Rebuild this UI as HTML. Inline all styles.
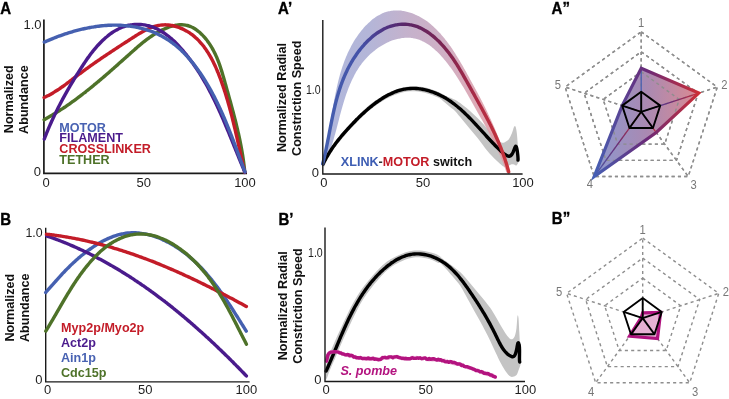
<!DOCTYPE html>
<html><head><meta charset="utf-8">
<style>
html,body{margin:0;padding:0;background:#fff;}
body{width:729px;height:399px;overflow:hidden;}
svg{display:block;will-change:transform;}
text{font-family:"Liberation Sans", sans-serif;}
.pl{font-weight:bold;font-size:16px;fill:#000;stroke:#000;stroke-width:0.35px;}
.tk{font-size:13px;fill:#1e1e1e;}
.tk2{font-size:12.5px;fill:#2b2b2b;}
.yl{font-weight:bold;font-size:12.6px;fill:#111;}
.lg{font-weight:bold;font-size:12.6px;}
.ax{stroke:#1a1a1a;stroke-width:1.7;fill:none;}
.ax2{stroke:#1a1a1a;stroke-width:1.4;fill:none;}
.cv{fill:none;stroke-width:3.4;stroke-linecap:round;stroke-linejoin:round;}
.dash{fill:none;stroke:#8e8e8e;stroke-width:1.4;stroke-dasharray:3.1 3.2;}
.bp{fill:none;stroke:#000;stroke-width:1.9;stroke-linejoin:round;}
.rl{font-size:12.2px;fill:#777;text-anchor:middle;}
</style></head>
<body>
<svg width="729" height="399" viewBox="0 0 729 399">
<defs>
<linearGradient id="gA1" gradientUnits="userSpaceOnUse" x1="323" y1="0" x2="508" y2="0">
<stop offset="0" stop-color="#4560b0"/><stop offset="0.2" stop-color="#4452a8"/><stop offset="0.35" stop-color="#50307e"/><stop offset="0.45" stop-color="#5a2566"/><stop offset="0.65" stop-color="#7c2452"/><stop offset="0.85" stop-color="#b02c44"/><stop offset="1" stop-color="#c8333a"/>
</linearGradient>
<linearGradient id="gA1f" gradientUnits="userSpaceOnUse" x1="323" y1="0" x2="510" y2="0">
<stop offset="0" stop-color="#a2abd6"/><stop offset="0.25" stop-color="#a7a9d1"/><stop offset="0.45" stop-color="#baa4c3"/><stop offset="0.65" stop-color="#c8a2ba"/><stop offset="0.85" stop-color="#db9ba7"/><stop offset="1" stop-color="#e699a2"/>
</linearGradient>
<linearGradient id="gR" gradientUnits="userSpaceOnUse" x1="594" y1="0" x2="699" y2="0">
<stop offset="0" stop-color="#4660b4"/><stop offset="0.5" stop-color="#6a2a78"/><stop offset="1" stop-color="#cc2f36"/>
</linearGradient>
<linearGradient id="gS" x1="0" y1="0" x2="1" y2="0">
<stop offset="0" stop-color="#4660b4"/><stop offset="0.5" stop-color="#6a2a78"/><stop offset="1" stop-color="#cc2f36"/>
</linearGradient>
<linearGradient id="gRf" gradientUnits="userSpaceOnUse" x1="594" y1="0" x2="699" y2="0">
<stop offset="0" stop-color="#8593cc"/><stop offset="0.5" stop-color="#a583ae"/><stop offset="1" stop-color="#d9848c"/>
</linearGradient>
</defs>

<!-- ============ Panel A ============ -->
<text transform="translate(0.2,13.9) scale(0.94,1)" class="pl">A</text>
<text x="41.5" y="28.6" class="tk" text-anchor="end">1.0</text>
<text x="41" y="175.6" class="tk" text-anchor="end">0</text>
<text x="46" y="186.7" class="tk" text-anchor="middle">0</text>
<text x="143.8" y="186.7" class="tk" text-anchor="middle">50</text>
<text x="245" y="186.7" class="tk" text-anchor="middle">100</text>
<text transform="translate(12.8,99.25) rotate(-90)" class="yl" text-anchor="middle">Normalized</text>
<text transform="translate(27.9,99.6) rotate(-90)" class="yl" text-anchor="middle">Abundance</text>
<path d="M43.9,19.4 V173.3 H247" class="ax"/>
<path d="M44.05,119.77 C44.35,119.61 45.23,119.12 45.82,118.80 C46.41,118.47 46.99,118.14 47.58,117.81 C48.16,117.48 48.74,117.15 49.33,116.81 C49.91,116.48 50.49,116.14 51.06,115.80 C51.64,115.46 52.22,115.12 52.79,114.77 C53.37,114.43 53.94,114.08 54.51,113.73 C55.09,113.38 55.66,113.03 56.23,112.68 C56.80,112.33 57.36,111.97 57.93,111.61 C58.50,111.25 59.06,110.89 59.62,110.53 C60.19,110.17 60.75,109.81 61.31,109.44 C61.87,109.07 62.43,108.71 62.99,108.34 C63.55,107.97 64.10,107.59 64.66,107.22 C65.22,106.85 65.77,106.47 66.32,106.09 C66.88,105.71 67.43,105.34 67.98,104.95 C68.53,104.57 69.08,104.19 69.63,103.80 C70.17,103.42 70.72,103.03 71.27,102.64 C71.81,102.26 72.36,101.87 72.90,101.47 C73.44,101.08 73.99,100.69 74.53,100.29 C75.07,99.90 75.61,99.50 76.15,99.10 C76.69,98.70 77.22,98.30 77.76,97.90 C78.30,97.50 78.83,97.10 79.37,96.69 C79.90,96.29 80.44,95.88 80.97,95.48 C81.50,95.07 82.03,94.66 82.56,94.25 C83.10,93.84 83.63,93.43 84.15,93.02 C84.68,92.60 85.21,92.19 85.74,91.78 C86.26,91.36 86.79,90.94 87.32,90.53 C87.84,90.11 88.37,89.69 88.89,89.27 C89.41,88.85 89.93,88.43 90.46,88.01 C90.98,87.58 91.50,87.16 92.02,86.73 C92.54,86.31 93.06,85.88 93.58,85.46 C94.10,85.03 94.61,84.60 95.13,84.18 C95.65,83.75 96.16,83.32 96.68,82.89 C97.20,82.46 97.71,82.02 98.22,81.59 C98.74,81.16 99.25,80.73 99.77,80.29 C100.28,79.86 100.79,79.42 101.30,78.99 C101.81,78.55 102.32,78.12 102.84,77.68 C103.35,77.24 103.86,76.80 104.36,76.37 C104.87,75.93 105.38,75.49 105.89,75.05 C106.40,74.61 106.91,74.17 107.41,73.73 C107.92,73.29 108.43,72.85 108.93,72.40 C109.44,71.96 109.95,71.52 110.45,71.08 C110.96,70.63 111.46,70.19 111.97,69.75 C112.47,69.30 112.97,68.86 113.48,68.41 C113.98,67.97 114.48,67.53 114.99,67.08 C115.49,66.63 115.99,66.19 116.49,65.74 C117.00,65.30 117.50,64.85 118.00,64.41 C118.50,63.96 119.00,63.51 119.50,63.07 C120.00,62.62 120.50,62.17 121.00,61.73 C121.51,61.28 122.01,60.83 122.51,60.38 C123.01,59.94 123.50,59.49 124.00,59.04 C124.50,58.60 125.00,58.15 125.50,57.70 C126.00,57.25 126.50,56.81 127.00,56.36 C127.50,55.91 128.00,55.47 128.50,55.02 C128.99,54.57 129.49,54.13 129.99,53.68 C130.49,53.23 130.99,52.79 131.49,52.34 C131.99,51.90 132.48,51.45 132.98,51.01 C133.48,50.56 133.98,50.12 134.49,49.68 C134.99,49.23 135.49,48.79 135.99,48.35 C136.50,47.91 137.00,47.48 137.51,47.04 C138.01,46.61 138.52,46.17 139.03,45.74 C139.54,45.31 140.05,44.88 140.56,44.45 C141.08,44.02 141.59,43.60 142.11,43.18 C142.63,42.76 143.15,42.34 143.67,41.92 C144.20,41.51 144.72,41.10 145.25,40.69 C145.78,40.28 146.31,39.88 146.85,39.47 C147.39,39.07 147.93,38.68 148.47,38.28 C149.01,37.89 149.56,37.50 150.11,37.12 C150.66,36.74 151.22,36.36 151.78,35.98 C152.34,35.61 152.90,35.24 153.47,34.88 C154.04,34.51 154.62,34.15 155.20,33.80 C155.77,33.45 156.36,33.10 156.95,32.76 C157.54,32.42 158.13,32.08 158.73,31.76 C159.33,31.43 159.94,31.10 160.55,30.79 C161.16,30.47 161.78,30.16 162.41,29.86 C163.03,29.56 163.66,29.27 164.29,28.99 C164.93,28.70 165.56,28.43 166.20,28.17 C166.84,27.90 167.49,27.65 168.14,27.41 C168.78,27.18 169.43,26.95 170.08,26.74 C170.73,26.53 171.39,26.33 172.04,26.14 C172.69,25.96 173.35,25.80 174.00,25.65 C174.65,25.50 175.31,25.36 175.96,25.25 C176.61,25.14 177.26,25.04 177.91,24.96 C178.56,24.89 179.21,24.83 179.85,24.80 C180.50,24.76 181.14,24.75 181.78,24.76 C182.42,24.77 183.05,24.80 183.68,24.86 C184.31,24.92 184.94,25.00 185.56,25.11 C186.18,25.22 186.79,25.35 187.40,25.51 C188.01,25.67 188.61,25.86 189.21,26.07 C189.81,26.27 190.40,26.51 190.98,26.76 C191.57,27.01 192.14,27.29 192.71,27.59 C193.29,27.88 193.85,28.20 194.41,28.54 C194.97,28.87 195.52,29.23 196.06,29.60 C196.61,29.97 197.14,30.37 197.67,30.77 C198.20,31.18 198.72,31.60 199.24,32.04 C199.75,32.48 200.26,32.93 200.76,33.40 C201.26,33.86 201.75,34.34 202.23,34.83 C202.71,35.33 203.19,35.83 203.65,36.34 C204.12,36.85 204.58,37.38 205.03,37.91 C205.48,38.44 205.92,38.99 206.35,39.53 C206.78,40.08 207.21,40.64 207.62,41.20 C208.03,41.76 208.44,42.33 208.83,42.90 C209.23,43.47 209.61,44.05 209.99,44.63 C210.37,45.21 210.73,45.79 211.09,46.37 C211.45,46.96 211.80,47.55 212.14,48.14 C212.48,48.73 212.81,49.32 213.13,49.92 C213.45,50.52 213.77,51.11 214.07,51.72 C214.38,52.32 214.68,52.92 214.97,53.53 C215.26,54.13 215.55,54.74 215.83,55.35 C216.10,55.96 216.38,56.58 216.64,57.19 C216.91,57.81 217.16,58.42 217.42,59.04 C217.67,59.66 217.92,60.28 218.16,60.90 C218.40,61.53 218.64,62.15 218.87,62.78 C219.10,63.40 219.32,64.03 219.55,64.66 C219.77,65.29 219.99,65.92 220.20,66.55 C220.41,67.18 220.62,67.82 220.83,68.45 C221.03,69.09 221.24,69.72 221.44,70.36 C221.64,70.99 221.83,71.63 222.03,72.27 C222.22,72.91 222.41,73.55 222.60,74.19 C222.79,74.83 222.98,75.47 223.16,76.11 C223.35,76.76 223.53,77.40 223.72,78.04 C223.90,78.68 224.08,79.33 224.26,79.97 C224.45,80.62 224.63,81.26 224.81,81.91 C224.99,82.55 225.17,83.19 225.35,83.84 C225.53,84.48 225.71,85.13 225.89,85.77 C226.07,86.42 226.25,87.07 226.43,87.71 C226.61,88.36 226.79,89.00 226.97,89.65 C227.15,90.29 227.34,90.94 227.52,91.58 C227.70,92.23 227.88,92.88 228.06,93.52 C228.24,94.17 228.42,94.82 228.60,95.46 C228.78,96.11 228.96,96.76 229.14,97.40 C229.32,98.05 229.50,98.70 229.68,99.34 C229.86,99.99 230.04,100.64 230.22,101.28 C230.39,101.93 230.57,102.58 230.75,103.23 C230.93,103.88 231.10,104.52 231.28,105.17 C231.46,105.82 231.63,106.47 231.81,107.12 C231.98,107.76 232.16,108.41 232.33,109.06 C232.51,109.71 232.68,110.36 232.85,111.01 C233.03,111.66 233.20,112.31 233.37,112.96 C233.54,113.61 233.71,114.26 233.88,114.91 C234.05,115.56 234.22,116.21 234.39,116.86 C234.55,117.51 234.72,118.16 234.89,118.81 C235.05,119.46 235.22,120.11 235.38,120.76 C235.54,121.42 235.71,122.07 235.87,122.72 C236.03,123.37 236.19,124.02 236.35,124.68 C236.51,125.33 236.67,125.98 236.82,126.63 C236.98,127.29 237.13,127.94 237.29,128.59 C237.44,129.25 237.59,129.90 237.75,130.56 C237.90,131.21 238.05,131.86 238.19,132.52 C238.34,133.17 238.49,133.83 238.64,134.48 C238.78,135.14 238.92,135.79 239.07,136.45 C239.21,137.10 239.35,137.76 239.49,138.42 C239.63,139.07 239.76,139.73 239.90,140.39 C240.03,141.04 240.17,141.70 240.30,142.36 C240.43,143.01 240.56,143.67 240.69,144.33 C240.82,144.99 240.94,145.65 241.07,146.30 C241.19,146.96 241.31,147.62 241.44,148.28 C241.56,148.94 241.67,149.60 241.79,150.26 C241.91,150.92 242.02,151.58 242.13,152.24 C242.24,152.90 242.35,153.56 242.46,154.22 C242.57,154.88 242.68,155.55 242.78,156.21 C242.88,156.87 242.98,157.53 243.08,158.20 C243.18,158.86 243.28,159.52 243.37,160.18 C243.46,160.85 243.55,161.51 243.64,162.18 C243.73,162.84 243.82,163.50 243.90,164.17 C243.99,164.83 244.07,165.50 244.15,166.16 C244.22,166.83 244.30,167.50 244.37,168.16 C244.45,168.83 244.52,169.50 244.59,170.16 C244.65,170.83 244.75,171.83 244.78,172.17" class="cv" stroke="#4e7229"/>
<path d="M44.03,97.59 C44.33,97.45 45.24,97.03 45.84,96.74 C46.44,96.45 47.04,96.15 47.63,95.85 C48.22,95.54 48.81,95.23 49.40,94.91 C49.99,94.59 50.58,94.27 51.16,93.93 C51.74,93.60 52.32,93.27 52.90,92.92 C53.48,92.58 54.05,92.23 54.63,91.88 C55.20,91.53 55.77,91.17 56.34,90.80 C56.91,90.44 57.47,90.07 58.04,89.70 C58.60,89.33 59.16,88.95 59.72,88.57 C60.28,88.19 60.84,87.80 61.40,87.42 C61.96,87.03 62.51,86.64 63.07,86.24 C63.62,85.85 64.17,85.45 64.72,85.05 C65.28,84.65 65.82,84.25 66.37,83.85 C66.92,83.44 67.47,83.04 68.02,82.63 C68.56,82.22 69.11,81.81 69.65,81.40 C70.20,80.99 70.74,80.58 71.28,80.17 C71.82,79.76 72.37,79.35 72.91,78.93 C73.45,78.52 73.99,78.11 74.53,77.69 C75.07,77.28 75.61,76.87 76.15,76.46 C76.69,76.05 77.23,75.64 77.77,75.23 C78.31,74.82 78.85,74.41 79.38,74.00 C79.92,73.59 80.46,73.19 81.00,72.79 C81.54,72.38 82.08,71.98 82.62,71.58 C83.16,71.18 83.70,70.78 84.24,70.39 C84.78,69.99 85.32,69.60 85.86,69.20 C86.40,68.81 86.94,68.42 87.48,68.03 C88.03,67.64 88.57,67.25 89.11,66.86 C89.65,66.47 90.19,66.09 90.74,65.70 C91.28,65.32 91.82,64.93 92.36,64.55 C92.91,64.17 93.45,63.79 93.99,63.41 C94.54,63.03 95.08,62.65 95.63,62.27 C96.17,61.89 96.72,61.51 97.27,61.13 C97.81,60.76 98.36,60.38 98.91,60.01 C99.45,59.63 100.00,59.26 100.55,58.88 C101.10,58.51 101.65,58.14 102.20,57.77 C102.74,57.39 103.30,57.02 103.85,56.65 C104.40,56.28 104.95,55.91 105.50,55.54 C106.05,55.17 106.61,54.80 107.16,54.43 C107.71,54.06 108.27,53.69 108.82,53.32 C109.38,52.95 109.94,52.58 110.49,52.21 C111.05,51.84 111.61,51.48 112.17,51.11 C112.73,50.74 113.29,50.37 113.85,50.00 C114.41,49.63 114.97,49.26 115.53,48.90 C116.09,48.53 116.66,48.16 117.22,47.79 C117.79,47.42 118.35,47.05 118.92,46.68 C119.48,46.31 120.05,45.94 120.62,45.57 C121.19,45.20 121.76,44.83 122.33,44.45 C122.90,44.08 123.47,43.71 124.05,43.34 C124.62,42.96 125.19,42.59 125.77,42.22 C126.34,41.84 126.92,41.47 127.50,41.09 C128.08,40.72 128.66,40.34 129.24,39.96 C129.82,39.58 130.40,39.21 130.98,38.83 C131.56,38.45 132.15,38.07 132.74,37.69 C133.32,37.31 133.91,36.94 134.50,36.56 C135.09,36.19 135.68,35.81 136.27,35.44 C136.86,35.07 137.45,34.71 138.05,34.34 C138.64,33.98 139.24,33.62 139.84,33.27 C140.44,32.92 141.04,32.57 141.64,32.23 C142.24,31.89 142.84,31.56 143.45,31.23 C144.05,30.91 144.66,30.59 145.27,30.28 C145.88,29.97 146.49,29.67 147.11,29.38 C147.72,29.09 148.33,28.81 148.95,28.54 C149.57,28.27 150.19,28.01 150.81,27.77 C151.43,27.52 152.06,27.29 152.68,27.07 C153.31,26.85 153.94,26.65 154.57,26.46 C155.20,26.26 155.83,26.09 156.47,25.93 C157.10,25.77 157.74,25.62 158.38,25.49 C159.02,25.37 159.67,25.25 160.31,25.16 C160.96,25.07 161.61,24.99 162.26,24.94 C162.91,24.88 163.56,24.85 164.22,24.83 C164.87,24.82 165.53,24.82 166.19,24.84 C166.85,24.86 167.51,24.91 168.18,24.97 C168.84,25.03 169.50,25.11 170.16,25.20 C170.82,25.30 171.49,25.41 172.14,25.54 C172.80,25.67 173.46,25.82 174.12,25.98 C174.77,26.14 175.43,26.32 176.08,26.51 C176.72,26.70 177.37,26.91 178.01,27.13 C178.65,27.35 179.29,27.58 179.92,27.83 C180.55,28.08 181.18,28.34 181.79,28.61 C182.41,28.89 183.03,29.17 183.63,29.47 C184.23,29.76 184.83,30.07 185.42,30.39 C186.01,30.71 186.58,31.04 187.16,31.38 C187.73,31.72 188.29,32.07 188.84,32.42 C189.40,32.78 189.95,33.15 190.48,33.53 C191.02,33.91 191.55,34.30 192.08,34.70 C192.60,35.09 193.11,35.50 193.62,35.91 C194.13,36.33 194.63,36.75 195.12,37.19 C195.61,37.62 196.10,38.06 196.58,38.51 C197.05,38.96 197.52,39.42 197.99,39.88 C198.45,40.35 198.91,40.82 199.36,41.30 C199.81,41.78 200.25,42.27 200.69,42.77 C201.12,43.26 201.55,43.77 201.97,44.28 C202.40,44.79 202.81,45.30 203.22,45.83 C203.63,46.35 204.04,46.88 204.44,47.42 C204.83,47.95 205.22,48.49 205.61,49.04 C206.00,49.59 206.38,50.14 206.75,50.70 C207.12,51.26 207.49,51.83 207.85,52.40 C208.22,52.97 208.57,53.54 208.92,54.12 C209.28,54.70 209.62,55.29 209.96,55.88 C210.30,56.47 210.64,57.06 210.97,57.66 C211.30,58.26 211.63,58.86 211.95,59.47 C212.27,60.07 212.58,60.68 212.89,61.30 C213.20,61.91 213.51,62.53 213.81,63.15 C214.11,63.77 214.41,64.39 214.71,65.02 C215.00,65.64 215.29,66.27 215.57,66.90 C215.86,67.53 216.14,68.17 216.41,68.80 C216.69,69.44 216.96,70.08 217.23,70.72 C217.50,71.36 217.76,72.00 218.02,72.65 C218.29,73.29 218.54,73.93 218.80,74.58 C219.05,75.23 219.30,75.87 219.55,76.52 C219.80,77.17 220.04,77.82 220.28,78.47 C220.52,79.12 220.76,79.77 221.00,80.42 C221.23,81.07 221.47,81.72 221.70,82.37 C221.93,83.02 222.15,83.67 222.38,84.32 C222.60,84.97 222.82,85.62 223.04,86.27 C223.26,86.92 223.48,87.56 223.69,88.21 C223.91,88.86 224.12,89.50 224.33,90.15 C224.54,90.80 224.75,91.44 224.96,92.09 C225.16,92.73 225.37,93.38 225.57,94.02 C225.77,94.67 225.97,95.31 226.17,95.96 C226.36,96.60 226.56,97.24 226.75,97.89 C226.95,98.53 227.14,99.17 227.33,99.81 C227.52,100.46 227.70,101.10 227.89,101.74 C228.08,102.38 228.26,103.03 228.44,103.67 C228.63,104.31 228.81,104.95 228.99,105.59 C229.17,106.23 229.34,106.88 229.52,107.52 C229.70,108.16 229.87,108.80 230.04,109.44 C230.22,110.08 230.39,110.72 230.56,111.36 C230.73,112.00 230.90,112.65 231.06,113.29 C231.23,113.93 231.40,114.57 231.56,115.21 C231.73,115.85 231.89,116.49 232.05,117.14 C232.22,117.78 232.38,118.42 232.54,119.06 C232.70,119.70 232.86,120.35 233.02,120.99 C233.18,121.63 233.33,122.27 233.49,122.92 C233.65,123.56 233.80,124.20 233.96,124.85 C234.11,125.49 234.27,126.13 234.42,126.78 C234.57,127.42 234.72,128.07 234.88,128.71 C235.03,129.36 235.18,130.00 235.33,130.65 C235.48,131.30 235.63,131.94 235.78,132.59 C235.93,133.24 236.08,133.88 236.23,134.53 C236.37,135.18 236.52,135.83 236.67,136.48 C236.82,137.13 236.96,137.78 237.11,138.43 C237.26,139.08 237.40,139.73 237.55,140.38 C237.70,141.03 237.84,141.69 237.99,142.34 C238.14,142.99 238.28,143.65 238.43,144.30 C238.57,144.96 238.72,145.61 238.87,146.27 C239.01,146.93 239.16,147.58 239.31,148.24 C239.45,148.90 239.60,149.56 239.74,150.22 C239.89,150.88 240.04,151.54 240.18,152.20 C240.33,152.87 240.48,153.53 240.63,154.19 C240.77,154.86 240.92,155.52 241.07,156.19 C241.22,156.85 241.37,157.52 241.52,158.19 C241.67,158.86 241.82,159.53 241.97,160.20 C242.12,160.87 242.27,161.54 242.42,162.21 C242.57,162.89 242.72,163.56 242.88,164.24 C243.03,164.91 243.18,165.59 243.34,166.26 C243.49,166.94 243.65,167.62 243.81,168.30 C243.96,168.98 244.12,169.66 244.28,170.35 C244.44,171.03 244.68,172.06 244.76,172.40" class="cv" stroke="#c31c28"/>
<path d="M44.26,139.06 C44.38,138.74 44.75,137.79 44.99,137.16 C45.24,136.53 45.49,135.90 45.74,135.27 C45.99,134.64 46.24,134.01 46.49,133.38 C46.75,132.75 47.00,132.13 47.26,131.50 C47.52,130.88 47.78,130.25 48.04,129.63 C48.30,129.01 48.57,128.38 48.83,127.76 C49.10,127.14 49.37,126.52 49.64,125.90 C49.91,125.28 50.18,124.66 50.45,124.05 C50.73,123.43 51.00,122.81 51.28,122.20 C51.55,121.58 51.83,120.97 52.11,120.35 C52.39,119.74 52.68,119.13 52.96,118.52 C53.25,117.91 53.53,117.29 53.82,116.68 C54.11,116.08 54.40,115.47 54.69,114.86 C54.98,114.25 55.27,113.64 55.57,113.04 C55.86,112.43 56.16,111.83 56.45,111.22 C56.75,110.62 57.05,110.02 57.35,109.41 C57.65,108.81 57.96,108.21 58.26,107.61 C58.57,107.01 58.87,106.41 59.18,105.81 C59.49,105.21 59.80,104.62 60.11,104.02 C60.42,103.42 60.73,102.83 61.04,102.23 C61.36,101.63 61.67,101.04 61.99,100.45 C62.30,99.85 62.62,99.26 62.94,98.67 C63.26,98.08 63.58,97.49 63.91,96.89 C64.23,96.30 64.55,95.71 64.88,95.13 C65.20,94.54 65.53,93.95 65.86,93.36 C66.19,92.78 66.52,92.19 66.85,91.60 C67.18,91.02 67.51,90.43 67.85,89.85 C68.18,89.26 68.51,88.68 68.85,88.10 C69.19,87.52 69.52,86.93 69.86,86.35 C70.20,85.77 70.54,85.19 70.88,84.61 C71.23,84.03 71.57,83.45 71.91,82.88 C72.26,82.30 72.60,81.72 72.95,81.14 C73.30,80.57 73.64,79.99 73.99,79.41 C74.34,78.84 74.69,78.26 75.04,77.69 C75.39,77.12 75.75,76.54 76.10,75.97 C76.45,75.40 76.81,74.82 77.16,74.25 C77.52,73.68 77.88,73.11 78.23,72.54 C78.59,71.97 78.95,71.40 79.31,70.83 C79.67,70.26 80.03,69.69 80.39,69.13 C80.76,68.56 81.12,67.99 81.48,67.43 C81.85,66.86 82.21,66.29 82.58,65.73 C82.95,65.17 83.32,64.60 83.69,64.04 C84.06,63.48 84.44,62.92 84.81,62.36 C85.19,61.80 85.57,61.24 85.95,60.69 C86.33,60.13 86.71,59.58 87.10,59.03 C87.48,58.47 87.87,57.92 88.27,57.38 C88.66,56.83 89.06,56.28 89.45,55.74 C89.85,55.19 90.26,54.65 90.66,54.11 C91.07,53.57 91.48,53.04 91.90,52.50 C92.31,51.97 92.73,51.44 93.15,50.91 C93.58,50.38 94.00,49.86 94.44,49.34 C94.87,48.81 95.31,48.29 95.75,47.78 C96.19,47.26 96.64,46.75 97.09,46.24 C97.55,45.73 98.00,45.23 98.47,44.73 C98.93,44.23 99.40,43.73 99.88,43.23 C100.35,42.74 100.83,42.25 101.32,41.77 C101.81,41.28 102.30,40.80 102.80,40.32 C103.30,39.85 103.80,39.38 104.31,38.92 C104.82,38.45 105.34,38.00 105.86,37.55 C106.38,37.10 106.91,36.65 107.44,36.22 C107.97,35.78 108.51,35.36 109.05,34.94 C109.60,34.52 110.14,34.11 110.70,33.71 C111.25,33.31 111.81,32.91 112.37,32.53 C112.94,32.15 113.51,31.78 114.08,31.42 C114.65,31.06 115.23,30.71 115.82,30.37 C116.40,30.03 116.99,29.70 117.58,29.39 C118.18,29.08 118.78,28.77 119.38,28.48 C119.98,28.20 120.59,27.92 121.20,27.66 C121.81,27.40 122.43,27.15 123.05,26.91 C123.67,26.68 124.30,26.46 124.93,26.26 C125.56,26.06 126.19,25.87 126.83,25.70 C127.47,25.52 128.12,25.37 128.76,25.23 C129.41,25.09 130.06,24.97 130.72,24.86 C131.37,24.76 132.03,24.67 132.69,24.59 C133.34,24.52 134.01,24.46 134.67,24.42 C135.33,24.38 135.99,24.35 136.66,24.34 C137.32,24.33 137.99,24.33 138.65,24.35 C139.32,24.37 139.98,24.40 140.64,24.45 C141.31,24.50 141.97,24.57 142.63,24.65 C143.29,24.73 143.95,24.82 144.60,24.93 C145.25,25.04 145.91,25.17 146.55,25.31 C147.20,25.44 147.85,25.60 148.49,25.76 C149.13,25.93 149.76,26.11 150.39,26.31 C151.02,26.50 151.65,26.71 152.27,26.93 C152.89,27.15 153.50,27.39 154.11,27.64 C154.72,27.89 155.33,28.15 155.93,28.42 C156.53,28.69 157.12,28.98 157.71,29.28 C158.30,29.57 158.88,29.88 159.46,30.20 C160.04,30.52 160.62,30.85 161.19,31.19 C161.76,31.53 162.32,31.89 162.88,32.25 C163.44,32.61 164.00,32.98 164.55,33.36 C165.10,33.74 165.64,34.13 166.19,34.53 C166.73,34.93 167.26,35.34 167.80,35.76 C168.33,36.17 168.86,36.60 169.38,37.03 C169.90,37.46 170.42,37.90 170.94,38.35 C171.45,38.79 171.96,39.25 172.47,39.71 C172.98,40.17 173.48,40.64 173.98,41.11 C174.47,41.58 174.97,42.06 175.46,42.55 C175.95,43.03 176.43,43.52 176.91,44.02 C177.39,44.51 177.87,45.01 178.35,45.51 C178.82,46.02 179.29,46.53 179.75,47.04 C180.22,47.55 180.68,48.06 181.14,48.58 C181.60,49.10 182.05,49.62 182.50,50.15 C182.95,50.67 183.40,51.20 183.84,51.73 C184.29,52.26 184.73,52.79 185.16,53.32 C185.60,53.85 186.03,54.39 186.46,54.92 C186.89,55.46 187.31,55.99 187.73,56.53 C188.16,57.07 188.58,57.61 188.99,58.16 C189.41,58.70 189.82,59.24 190.23,59.79 C190.64,60.33 191.04,60.88 191.44,61.43 C191.84,61.98 192.24,62.53 192.64,63.08 C193.04,63.63 193.43,64.18 193.82,64.74 C194.21,65.29 194.59,65.85 194.98,66.41 C195.36,66.96 195.74,67.52 196.12,68.08 C196.50,68.64 196.87,69.21 197.24,69.77 C197.61,70.33 197.98,70.90 198.35,71.46 C198.71,72.03 199.08,72.60 199.44,73.16 C199.80,73.73 200.16,74.30 200.51,74.87 C200.87,75.45 201.22,76.02 201.57,76.59 C201.92,77.17 202.27,77.74 202.61,78.32 C202.96,78.89 203.30,79.47 203.64,80.05 C203.98,80.63 204.32,81.21 204.65,81.79 C204.99,82.37 205.32,82.95 205.65,83.54 C205.98,84.12 206.31,84.71 206.63,85.29 C206.96,85.88 207.28,86.47 207.60,87.05 C207.93,87.64 208.24,88.23 208.56,88.82 C208.88,89.41 209.19,90.00 209.51,90.59 C209.82,91.19 210.13,91.78 210.44,92.37 C210.75,92.97 211.06,93.56 211.36,94.16 C211.67,94.76 211.97,95.35 212.27,95.95 C212.57,96.55 212.87,97.15 213.17,97.75 C213.47,98.35 213.76,98.95 214.06,99.55 C214.35,100.15 214.64,100.76 214.93,101.36 C215.23,101.96 215.51,102.57 215.80,103.17 C216.09,103.78 216.38,104.38 216.66,104.99 C216.95,105.60 217.23,106.20 217.51,106.81 C217.79,107.42 218.07,108.03 218.35,108.64 C218.63,109.25 218.91,109.86 219.19,110.47 C219.46,111.08 219.74,111.69 220.01,112.31 C220.29,112.92 220.56,113.53 220.83,114.15 C221.10,114.76 221.37,115.37 221.64,115.99 C221.91,116.60 222.18,117.22 222.45,117.83 C222.72,118.45 222.98,119.07 223.25,119.68 C223.51,120.30 223.78,120.92 224.04,121.54 C224.31,122.16 224.57,122.78 224.83,123.39 C225.09,124.01 225.35,124.63 225.61,125.25 C225.88,125.87 226.14,126.49 226.39,127.12 C226.65,127.74 226.91,128.36 227.17,128.98 C227.43,129.60 227.69,130.22 227.94,130.85 C228.20,131.47 228.46,132.09 228.71,132.71 C228.97,133.34 229.22,133.96 229.48,134.58 C229.73,135.21 229.99,135.83 230.24,136.46 C230.50,137.08 230.75,137.71 231.01,138.33 C231.26,138.96 231.51,139.58 231.77,140.21 C232.02,140.83 232.27,141.46 232.53,142.08 C232.78,142.71 233.03,143.33 233.29,143.96 C233.54,144.59 233.79,145.21 234.04,145.84 C234.30,146.46 234.55,147.09 234.80,147.72 C235.06,148.34 235.31,148.97 235.56,149.60 C235.82,150.22 236.07,150.85 236.33,151.47 C236.58,152.10 236.83,152.73 237.09,153.35 C237.34,153.98 237.60,154.61 237.85,155.23 C238.11,155.86 238.36,156.49 238.62,157.11 C238.88,157.74 239.13,158.37 239.39,158.99 C239.65,159.62 239.90,160.24 240.16,160.87 C240.42,161.50 240.68,162.12 240.94,162.75 C241.20,163.37 241.46,164.00 241.72,164.62 C241.98,165.25 242.24,165.87 242.50,166.50 C242.77,167.12 243.03,167.75 243.29,168.37 C243.56,169.00 243.82,169.62 244.09,170.24 C244.35,170.87 244.76,171.80 244.89,172.11" class="cv" stroke="#4a1b8c"/>
<path d="M44.23,42.09 C44.53,41.96 45.42,41.57 46.01,41.32 C46.60,41.07 47.20,40.81 47.80,40.56 C48.40,40.31 49.00,40.06 49.61,39.81 C50.21,39.56 50.82,39.32 51.43,39.07 C52.03,38.83 52.64,38.58 53.26,38.34 C53.87,38.10 54.49,37.86 55.10,37.62 C55.72,37.38 56.34,37.15 56.96,36.92 C57.58,36.68 58.20,36.45 58.83,36.22 C59.45,35.99 60.08,35.77 60.71,35.54 C61.34,35.32 61.97,35.10 62.60,34.88 C63.23,34.66 63.87,34.44 64.50,34.23 C65.14,34.01 65.78,33.80 66.42,33.59 C67.06,33.38 67.70,33.18 68.34,32.97 C68.98,32.77 69.63,32.57 70.27,32.37 C70.92,32.17 71.57,31.98 72.21,31.79 C72.86,31.60 73.51,31.41 74.16,31.23 C74.82,31.04 75.47,30.86 76.12,30.68 C76.78,30.51 77.43,30.33 78.09,30.16 C78.75,29.99 79.41,29.82 80.06,29.66 C80.72,29.49 81.38,29.33 82.05,29.18 C82.71,29.02 83.37,28.87 84.03,28.72 C84.70,28.57 85.36,28.43 86.03,28.29 C86.69,28.15 87.36,28.01 88.03,27.88 C88.70,27.75 89.37,27.62 90.04,27.50 C90.70,27.37 91.38,27.25 92.05,27.14 C92.72,27.02 93.39,26.91 94.06,26.81 C94.74,26.70 95.41,26.60 96.08,26.51 C96.76,26.41 97.43,26.32 98.11,26.23 C98.78,26.14 99.46,26.06 100.13,25.98 C100.81,25.91 101.49,25.84 102.17,25.77 C102.84,25.70 103.52,25.64 104.20,25.58 C104.88,25.53 105.56,25.47 106.23,25.43 C106.91,25.38 107.59,25.34 108.27,25.31 C108.95,25.27 109.63,25.24 110.31,25.22 C110.99,25.19 111.67,25.18 112.35,25.16 C113.03,25.15 113.71,25.14 114.39,25.14 C115.07,25.14 115.75,25.14 116.43,25.16 C117.11,25.17 117.80,25.18 118.47,25.20 C119.15,25.23 119.83,25.25 120.51,25.29 C121.19,25.32 121.87,25.36 122.55,25.41 C123.22,25.45 123.90,25.51 124.58,25.57 C125.25,25.62 125.93,25.69 126.60,25.76 C127.28,25.83 127.95,25.90 128.62,25.99 C129.29,26.07 129.97,26.16 130.64,26.25 C131.30,26.35 131.97,26.45 132.64,26.56 C133.31,26.66 133.97,26.78 134.64,26.90 C135.30,27.02 135.96,27.14 136.62,27.27 C137.28,27.41 137.94,27.55 138.60,27.69 C139.25,27.84 139.91,27.99 140.56,28.15 C141.21,28.30 141.86,28.47 142.51,28.64 C143.16,28.81 143.80,28.99 144.45,29.17 C145.09,29.36 145.73,29.55 146.37,29.74 C147.00,29.94 147.64,30.14 148.27,30.36 C148.90,30.57 149.53,30.78 150.16,31.01 C150.79,31.23 151.41,31.46 152.03,31.70 C152.65,31.93 153.27,32.18 153.88,32.43 C154.50,32.68 155.11,32.94 155.72,33.20 C156.32,33.47 156.93,33.74 157.53,34.01 C158.13,34.29 158.73,34.58 159.32,34.87 C159.91,35.16 160.50,35.46 161.09,35.77 C161.67,36.07 162.25,36.38 162.83,36.70 C163.41,37.02 163.98,37.35 164.55,37.68 C165.12,38.02 165.68,38.36 166.24,38.71 C166.80,39.05 167.36,39.41 167.91,39.77 C168.47,40.13 169.01,40.50 169.56,40.87 C170.10,41.25 170.64,41.63 171.18,42.01 C171.71,42.40 172.25,42.79 172.78,43.19 C173.30,43.59 173.83,43.99 174.35,44.40 C174.87,44.81 175.38,45.23 175.90,45.65 C176.41,46.07 176.92,46.50 177.42,46.93 C177.93,47.37 178.43,47.81 178.93,48.25 C179.42,48.69 179.92,49.14 180.41,49.60 C180.90,50.05 181.38,50.51 181.86,50.97 C182.35,51.44 182.83,51.91 183.30,52.38 C183.78,52.85 184.25,53.33 184.71,53.81 C185.18,54.30 185.65,54.78 186.11,55.28 C186.57,55.77 187.02,56.26 187.48,56.76 C187.93,57.26 188.38,57.77 188.82,58.28 C189.27,58.78 189.71,59.30 190.15,59.81 C190.59,60.33 191.03,60.85 191.46,61.37 C191.89,61.89 192.32,62.42 192.75,62.95 C193.17,63.48 193.59,64.01 194.01,64.55 C194.43,65.08 194.85,65.62 195.26,66.17 C195.67,66.71 196.08,67.25 196.48,67.80 C196.89,68.35 197.29,68.90 197.69,69.45 C198.09,70.01 198.48,70.56 198.88,71.12 C199.27,71.68 199.66,72.24 200.05,72.81 C200.43,73.37 200.81,73.93 201.19,74.50 C201.57,75.07 201.95,75.64 202.32,76.21 C202.70,76.78 203.07,77.35 203.44,77.93 C203.80,78.50 204.17,79.08 204.53,79.66 C204.89,80.24 205.25,80.82 205.61,81.40 C205.96,81.98 206.32,82.56 206.67,83.14 C207.02,83.72 207.36,84.31 207.71,84.89 C208.05,85.48 208.39,86.07 208.73,86.66 C209.07,87.24 209.41,87.83 209.74,88.42 C210.07,89.01 210.40,89.61 210.73,90.20 C211.06,90.79 211.39,91.39 211.71,91.98 C212.03,92.58 212.35,93.17 212.67,93.77 C212.99,94.37 213.31,94.96 213.62,95.56 C213.93,96.16 214.24,96.76 214.55,97.36 C214.86,97.97 215.17,98.57 215.47,99.17 C215.78,99.77 216.08,100.38 216.38,100.98 C216.68,101.59 216.98,102.19 217.27,102.80 C217.57,103.41 217.86,104.02 218.15,104.62 C218.44,105.23 218.73,105.84 219.02,106.45 C219.31,107.06 219.59,107.67 219.88,108.29 C220.16,108.90 220.44,109.51 220.72,110.12 C221.00,110.74 221.28,111.35 221.56,111.97 C221.83,112.58 222.11,113.20 222.38,113.81 C222.65,114.43 222.92,115.04 223.19,115.66 C223.46,116.28 223.73,116.90 224.00,117.52 C224.26,118.13 224.53,118.75 224.79,119.37 C225.06,119.99 225.32,120.61 225.58,121.23 C225.84,121.85 226.10,122.47 226.36,123.10 C226.61,123.72 226.87,124.34 227.13,124.96 C227.38,125.59 227.64,126.21 227.89,126.83 C228.14,127.46 228.39,128.08 228.64,128.70 C228.89,129.33 229.14,129.95 229.39,130.58 C229.64,131.20 229.89,131.83 230.13,132.45 C230.38,133.08 230.63,133.70 230.87,134.33 C231.12,134.96 231.36,135.58 231.60,136.21 C231.84,136.83 232.09,137.46 232.33,138.09 C232.57,138.72 232.81,139.34 233.05,139.97 C233.29,140.60 233.53,141.22 233.77,141.85 C234.00,142.48 234.24,143.11 234.48,143.73 C234.72,144.36 234.95,144.99 235.19,145.62 C235.43,146.24 235.66,146.87 235.90,147.50 C236.13,148.13 236.37,148.76 236.60,149.38 C236.84,150.01 237.07,150.64 237.30,151.27 C237.54,151.89 237.77,152.52 238.00,153.15 C238.24,153.78 238.47,154.40 238.70,155.03 C238.94,155.66 239.17,156.28 239.40,156.91 C239.64,157.54 239.87,158.16 240.10,158.79 C240.33,159.42 240.57,160.04 240.80,160.67 C241.03,161.29 241.26,161.92 241.50,162.55 C241.73,163.17 241.96,163.80 242.20,164.42 C242.43,165.05 242.66,165.67 242.90,166.29 C243.13,166.92 243.37,167.54 243.60,168.16 C243.83,168.79 244.07,169.41 244.30,170.03 C244.54,170.65 244.89,171.59 245.01,171.90" class="cv" stroke="#4560b0"/>
<text x="59.3" y="131.8" class="lg" fill="#4862b2">MOTOR</text>
<text x="59.3" y="142.45" class="lg" fill="#4a1b8c">FILAMENT</text>
<text x="59.3" y="153.1" class="lg" fill="#c31c28">CROSSLINKER</text>
<text x="59.3" y="163.75" class="lg" fill="#4e7229">TETHER</text>

<!-- ============ Panel B ============ -->
<text transform="translate(0.3,225) scale(0.94,1)" class="pl">B</text>
<text x="42.6" y="237.1" class="tk" text-anchor="end" textLength="17.2" lengthAdjust="spacingAndGlyphs">1.0</text>
<text x="42.6" y="383.9" class="tk" text-anchor="end">0</text>
<text x="47.5" y="394.3" class="tk" text-anchor="middle">0</text>
<text x="145.2" y="394.3" class="tk" text-anchor="middle">50</text>
<text x="246.4" y="394.3" class="tk" text-anchor="middle">100</text>
<text transform="translate(13.9,307.65) rotate(-90)" class="yl" text-anchor="middle">Normalized</text>
<text transform="translate(29.3,307.8) rotate(-90)" class="yl" text-anchor="middle">Abundance</text>
<path d="M45.7,227.8 V381.9 H249.6" class="ax2"/>
<path d="M45.68,292.54 C45.90,292.28 46.58,291.49 47.04,290.97 C47.49,290.45 47.94,289.93 48.39,289.42 C48.84,288.90 49.29,288.38 49.74,287.87 C50.19,287.36 50.64,286.84 51.08,286.33 C51.53,285.82 51.98,285.31 52.43,284.80 C52.88,284.29 53.32,283.79 53.77,283.28 C54.22,282.78 54.66,282.27 55.11,281.77 C55.56,281.27 56.01,280.77 56.45,280.27 C56.90,279.77 57.35,279.27 57.80,278.78 C58.25,278.28 58.70,277.79 59.15,277.29 C59.60,276.80 60.05,276.31 60.50,275.82 C60.96,275.33 61.41,274.85 61.86,274.36 C62.32,273.87 62.77,273.39 63.23,272.91 C63.69,272.42 64.15,271.94 64.61,271.47 C65.07,270.99 65.53,270.51 66.00,270.03 C66.46,269.56 66.93,269.08 67.40,268.61 C67.86,268.14 68.34,267.67 68.81,267.20 C69.28,266.73 69.76,266.27 70.23,265.80 C70.71,265.34 71.19,264.88 71.67,264.41 C72.16,263.95 72.64,263.49 73.13,263.04 C73.62,262.58 74.11,262.13 74.61,261.67 C75.10,261.22 75.60,260.77 76.10,260.32 C76.60,259.87 77.11,259.42 77.62,258.97 C78.12,258.53 78.64,258.09 79.15,257.64 C79.67,257.20 80.19,256.76 80.71,256.32 C81.24,255.89 81.76,255.45 82.30,255.02 C82.83,254.58 83.36,254.15 83.90,253.72 C84.44,253.30 84.99,252.87 85.53,252.45 C86.08,252.03 86.63,251.61 87.19,251.19 C87.74,250.77 88.30,250.36 88.86,249.95 C89.42,249.54 89.99,249.14 90.56,248.74 C91.13,248.34 91.70,247.94 92.27,247.55 C92.85,247.16 93.43,246.77 94.01,246.39 C94.59,246.00 95.18,245.63 95.76,245.26 C96.35,244.89 96.94,244.52 97.54,244.16 C98.13,243.80 98.73,243.44 99.33,243.10 C99.92,242.75 100.53,242.41 101.13,242.07 C101.74,241.74 102.34,241.41 102.95,241.09 C103.56,240.77 104.17,240.45 104.79,240.15 C105.40,239.84 106.02,239.54 106.64,239.25 C107.26,238.96 107.88,238.68 108.50,238.40 C109.12,238.13 109.75,237.86 110.38,237.60 C111.00,237.34 111.63,237.10 112.26,236.86 C112.89,236.62 113.53,236.38 114.16,236.16 C114.79,235.94 115.43,235.73 116.07,235.53 C116.70,235.33 117.34,235.13 117.98,234.95 C118.62,234.77 119.27,234.60 119.91,234.44 C120.55,234.28 121.20,234.13 121.84,233.99 C122.49,233.85 123.13,233.72 123.78,233.60 C124.43,233.49 125.08,233.38 125.73,233.29 C126.38,233.20 127.03,233.12 127.68,233.05 C128.33,232.98 128.98,232.92 129.64,232.88 C130.29,232.84 130.94,232.80 131.59,232.78 C132.25,232.76 132.90,232.75 133.56,232.76 C134.21,232.76 134.86,232.77 135.52,232.80 C136.17,232.82 136.83,232.86 137.48,232.91 C138.14,232.96 138.79,233.02 139.45,233.08 C140.10,233.15 140.75,233.23 141.41,233.32 C142.06,233.41 142.71,233.51 143.37,233.62 C144.02,233.73 144.67,233.85 145.32,233.98 C145.97,234.11 146.62,234.25 147.27,234.40 C147.92,234.55 148.57,234.71 149.22,234.88 C149.86,235.04 150.51,235.22 151.15,235.40 C151.80,235.59 152.44,235.78 153.08,235.99 C153.73,236.19 154.37,236.40 155.00,236.62 C155.64,236.84 156.28,237.07 156.92,237.30 C157.55,237.54 158.19,237.78 158.82,238.03 C159.45,238.28 160.08,238.54 160.71,238.81 C161.33,239.08 161.96,239.35 162.58,239.63 C163.21,239.91 163.83,240.20 164.44,240.49 C165.06,240.79 165.68,241.09 166.29,241.40 C166.90,241.70 167.52,242.02 168.12,242.34 C168.73,242.66 169.34,242.98 169.94,243.32 C170.54,243.65 171.14,243.99 171.73,244.33 C172.33,244.67 172.92,245.02 173.51,245.38 C174.10,245.73 174.69,246.09 175.27,246.46 C175.85,246.82 176.43,247.19 177.00,247.57 C177.58,247.94 178.15,248.32 178.72,248.71 C179.29,249.09 179.85,249.48 180.41,249.87 C180.97,250.26 181.53,250.66 182.08,251.06 C182.63,251.46 183.18,251.86 183.72,252.27 C184.27,252.68 184.81,253.09 185.34,253.51 C185.88,253.92 186.41,254.34 186.94,254.77 C187.47,255.19 188.00,255.62 188.52,256.05 C189.04,256.48 189.56,256.92 190.07,257.35 C190.59,257.79 191.10,258.23 191.60,258.68 C192.11,259.13 192.62,259.57 193.12,260.03 C193.62,260.48 194.12,260.93 194.61,261.39 C195.10,261.85 195.59,262.31 196.08,262.78 C196.57,263.24 197.05,263.71 197.54,264.18 C198.02,264.66 198.50,265.13 198.97,265.61 C199.45,266.08 199.92,266.57 200.39,267.05 C200.86,267.53 201.32,268.02 201.78,268.51 C202.25,269.00 202.71,269.49 203.17,269.98 C203.62,270.48 204.08,270.97 204.53,271.47 C204.98,271.97 205.43,272.48 205.88,272.98 C206.32,273.49 206.77,273.99 207.21,274.50 C207.65,275.01 208.09,275.53 208.52,276.04 C208.96,276.56 209.39,277.07 209.82,277.59 C210.25,278.11 210.68,278.63 211.11,279.15 C211.54,279.68 211.96,280.20 212.38,280.73 C212.80,281.26 213.22,281.79 213.64,282.32 C214.06,282.85 214.47,283.39 214.88,283.92 C215.30,284.46 215.71,284.99 216.12,285.53 C216.52,286.07 216.93,286.61 217.34,287.15 C217.74,287.70 218.14,288.24 218.54,288.78 C218.94,289.33 219.34,289.88 219.74,290.43 C220.14,290.97 220.53,291.52 220.92,292.07 C221.32,292.63 221.71,293.18 222.10,293.73 C222.49,294.29 222.88,294.84 223.26,295.40 C223.65,295.95 224.04,296.51 224.42,297.07 C224.80,297.63 225.19,298.19 225.57,298.75 C225.95,299.31 226.33,299.87 226.70,300.43 C227.08,300.99 227.46,301.56 227.83,302.12 C228.21,302.68 228.58,303.25 228.96,303.82 C229.33,304.38 229.70,304.95 230.07,305.51 C230.44,306.08 230.81,306.65 231.18,307.21 C231.55,307.78 231.92,308.35 232.28,308.92 C232.65,309.49 233.01,310.06 233.38,310.63 C233.74,311.20 234.11,311.77 234.47,312.34 C234.83,312.91 235.19,313.48 235.55,314.05 C235.92,314.62 236.28,315.19 236.64,315.76 C237.00,316.33 237.36,316.90 237.71,317.47 C238.07,318.04 238.43,318.61 238.79,319.18 C239.15,319.75 239.50,320.32 239.86,320.89 C240.22,321.46 240.57,322.02 240.93,322.59 C241.28,323.16 241.64,323.73 242.00,324.30 C242.35,324.87 242.71,325.43 243.06,326.00 C243.42,326.57 243.77,327.13 244.12,327.70 C244.48,328.27 244.83,328.83 245.19,329.40 C245.54,329.96 246.07,330.80 246.25,331.09" class="cv" stroke="#4560b0"/>
<path d="M46.60,235.86 C46.92,235.97 47.88,236.30 48.52,236.53 C49.16,236.75 49.80,236.98 50.44,237.20 C51.08,237.43 51.72,237.66 52.35,237.89 C52.99,238.12 53.62,238.35 54.26,238.59 C54.89,238.82 55.53,239.06 56.16,239.29 C56.79,239.53 57.42,239.77 58.06,240.01 C58.69,240.25 59.32,240.50 59.95,240.74 C60.57,240.99 61.20,241.23 61.83,241.48 C62.46,241.73 63.08,241.98 63.71,242.23 C64.34,242.49 64.96,242.74 65.59,243.00 C66.21,243.25 66.83,243.51 67.45,243.77 C68.08,244.03 68.70,244.29 69.32,244.55 C69.94,244.81 70.56,245.08 71.18,245.34 C71.80,245.61 72.42,245.88 73.03,246.14 C73.65,246.41 74.27,246.68 74.88,246.96 C75.50,247.23 76.11,247.50 76.73,247.78 C77.34,248.06 77.95,248.33 78.56,248.61 C79.18,248.89 79.79,249.17 80.40,249.46 C81.01,249.74 81.62,250.02 82.23,250.31 C82.84,250.59 83.44,250.88 84.05,251.17 C84.66,251.46 85.26,251.75 85.87,252.04 C86.47,252.33 87.08,252.63 87.68,252.92 C88.29,253.22 88.89,253.52 89.49,253.81 C90.09,254.11 90.69,254.41 91.29,254.71 C91.90,255.02 92.49,255.32 93.09,255.62 C93.69,255.93 94.29,256.24 94.89,256.54 C95.48,256.85 96.08,257.16 96.68,257.47 C97.27,257.78 97.87,258.09 98.46,258.41 C99.05,258.72 99.65,259.04 100.24,259.35 C100.83,259.67 101.42,259.99 102.01,260.31 C102.60,260.63 103.19,260.95 103.78,261.27 C104.37,261.60 104.96,261.92 105.55,262.25 C106.13,262.57 106.72,262.90 107.31,263.23 C107.89,263.56 108.48,263.89 109.06,264.22 C109.64,264.55 110.23,264.88 110.81,265.22 C111.39,265.55 111.97,265.89 112.56,266.22 C113.14,266.56 113.72,266.90 114.30,267.24 C114.87,267.58 115.45,267.92 116.03,268.26 C116.61,268.60 117.19,268.95 117.76,269.29 C118.34,269.64 118.91,269.99 119.49,270.33 C120.06,270.68 120.64,271.03 121.21,271.38 C121.78,271.73 122.35,272.09 122.93,272.44 C123.50,272.79 124.07,273.15 124.64,273.50 C125.21,273.86 125.78,274.22 126.34,274.57 C126.91,274.93 127.48,275.29 128.05,275.65 C128.61,276.02 129.18,276.38 129.74,276.74 C130.31,277.11 130.87,277.47 131.44,277.84 C132.00,278.20 132.56,278.57 133.13,278.94 C133.69,279.31 134.25,279.68 134.81,280.05 C135.37,280.42 135.93,280.79 136.49,281.17 C137.05,281.54 137.61,281.92 138.16,282.29 C138.72,282.67 139.28,283.04 139.84,283.42 C140.39,283.80 140.95,284.18 141.50,284.56 C142.06,284.94 142.61,285.33 143.16,285.71 C143.72,286.09 144.27,286.48 144.82,286.86 C145.37,287.25 145.92,287.63 146.47,288.02 C147.02,288.41 147.57,288.80 148.12,289.19 C148.67,289.58 149.22,289.97 149.76,290.36 C150.31,290.75 150.86,291.15 151.40,291.54 C151.95,291.94 152.49,292.33 153.04,292.73 C153.58,293.13 154.12,293.52 154.67,293.92 C155.21,294.32 155.75,294.72 156.29,295.12 C156.83,295.52 157.37,295.92 157.91,296.33 C158.45,296.73 158.99,297.13 159.53,297.54 C160.07,297.94 160.61,298.35 161.14,298.76 C161.68,299.17 162.21,299.57 162.75,299.98 C163.29,300.39 163.82,300.80 164.35,301.21 C164.89,301.62 165.42,302.04 165.95,302.45 C166.49,302.86 167.02,303.28 167.55,303.69 C168.08,304.11 168.61,304.52 169.14,304.94 C169.67,305.36 170.20,305.78 170.73,306.20 C171.25,306.61 171.78,307.03 172.31,307.45 C172.84,307.88 173.36,308.30 173.89,308.72 C174.41,309.14 174.94,309.57 175.46,309.99 C175.99,310.42 176.51,310.84 177.03,311.27 C177.55,311.69 178.08,312.12 178.60,312.55 C179.12,312.98 179.64,313.41 180.16,313.84 C180.68,314.26 181.20,314.70 181.72,315.13 C182.23,315.56 182.75,315.99 183.27,316.42 C183.79,316.86 184.30,317.29 184.82,317.73 C185.33,318.16 185.85,318.60 186.36,319.03 C186.88,319.47 187.39,319.91 187.90,320.34 C188.42,320.78 188.93,321.22 189.44,321.66 C189.95,322.10 190.46,322.54 190.97,322.98 C191.48,323.42 191.99,323.87 192.50,324.31 C193.01,324.75 193.52,325.20 194.03,325.64 C194.53,326.08 195.04,326.53 195.55,326.97 C196.05,327.42 196.56,327.87 197.06,328.31 C197.57,328.76 198.07,329.21 198.58,329.66 C199.08,330.11 199.58,330.56 200.09,331.01 C200.59,331.46 201.09,331.91 201.59,332.36 C202.09,332.81 202.59,333.26 203.09,333.71 C203.59,334.17 204.09,334.62 204.59,335.07 C205.09,335.53 205.58,335.98 206.08,336.44 C206.58,336.89 207.07,337.35 207.57,337.81 C208.07,338.26 208.56,338.72 209.05,339.18 C209.55,339.64 210.04,340.09 210.54,340.55 C211.03,341.01 211.52,341.47 212.01,341.93 C212.51,342.39 213.00,342.85 213.49,343.31 C213.98,343.78 214.47,344.24 214.96,344.70 C215.45,345.16 215.93,345.63 216.42,346.09 C216.91,346.55 217.40,347.02 217.89,347.48 C218.37,347.95 218.86,348.41 219.34,348.88 C219.83,349.34 220.31,349.81 220.80,350.28 C221.28,350.74 221.77,351.21 222.25,351.68 C222.73,352.15 223.21,352.62 223.70,353.08 C224.18,353.55 224.66,354.02 225.14,354.49 C225.62,354.96 226.10,355.43 226.58,355.90 C227.06,356.37 227.54,356.84 228.02,357.32 C228.49,357.79 228.97,358.26 229.45,358.73 C229.93,359.21 230.40,359.68 230.88,360.15 C231.35,360.62 231.83,361.10 232.30,361.57 C232.78,362.05 233.25,362.52 233.72,363.00 C234.20,363.47 234.67,363.95 235.14,364.42 C235.61,364.90 236.09,365.37 236.56,365.85 C237.03,366.33 237.50,366.80 237.97,367.28 C238.44,367.76 238.91,368.24 239.38,368.71 C239.84,369.19 240.31,369.67 240.78,370.15 C241.25,370.63 241.71,371.11 242.18,371.59 C242.65,372.07 243.11,372.54 243.58,373.02 C244.04,373.50 244.51,373.98 244.97,374.46 C245.43,374.95 246.13,375.67 246.36,375.91" class="cv" stroke="#4a1b8c"/>
<path d="M46.43,234.19 C46.77,234.23 47.78,234.34 48.45,234.42 C49.12,234.50 49.80,234.58 50.47,234.66 C51.14,234.74 51.81,234.83 52.48,234.91 C53.15,235.00 53.82,235.08 54.49,235.17 C55.16,235.26 55.83,235.35 56.50,235.45 C57.17,235.54 57.84,235.64 58.51,235.73 C59.18,235.83 59.84,235.93 60.51,236.03 C61.18,236.13 61.84,236.23 62.51,236.34 C63.18,236.44 63.84,236.55 64.51,236.66 C65.17,236.77 65.84,236.88 66.50,236.99 C67.17,237.10 67.83,237.22 68.50,237.33 C69.16,237.45 69.82,237.57 70.49,237.68 C71.15,237.80 71.81,237.93 72.47,238.05 C73.14,238.17 73.80,238.30 74.46,238.42 C75.12,238.55 75.78,238.68 76.44,238.81 C77.10,238.94 77.76,239.07 78.42,239.20 C79.08,239.34 79.74,239.47 80.40,239.61 C81.06,239.75 81.72,239.89 82.37,240.03 C83.03,240.17 83.69,240.31 84.35,240.46 C85.00,240.60 85.66,240.75 86.32,240.89 C86.97,241.04 87.63,241.19 88.28,241.34 C88.94,241.49 89.59,241.65 90.25,241.80 C90.90,241.95 91.55,242.11 92.21,242.27 C92.86,242.43 93.51,242.58 94.17,242.75 C94.82,242.91 95.47,243.07 96.12,243.23 C96.78,243.40 97.43,243.56 98.08,243.73 C98.73,243.90 99.38,244.07 100.03,244.24 C100.68,244.41 101.33,244.58 101.98,244.75 C102.63,244.93 103.28,245.10 103.92,245.28 C104.57,245.46 105.22,245.63 105.87,245.81 C106.52,245.99 107.16,246.17 107.81,246.36 C108.46,246.54 109.10,246.73 109.75,246.91 C110.39,247.10 111.04,247.28 111.68,247.47 C112.33,247.66 112.97,247.85 113.62,248.04 C114.26,248.24 114.91,248.43 115.55,248.62 C116.19,248.82 116.84,249.02 117.48,249.21 C118.12,249.41 118.76,249.61 119.40,249.81 C120.05,250.01 120.69,250.21 121.33,250.42 C121.97,250.62 122.61,250.83 123.25,251.03 C123.89,251.24 124.53,251.45 125.17,251.65 C125.81,251.86 126.44,252.07 127.08,252.29 C127.72,252.50 128.36,252.71 129.00,252.92 C129.63,253.14 130.27,253.35 130.91,253.57 C131.54,253.79 132.18,254.01 132.81,254.23 C133.45,254.45 134.09,254.67 134.72,254.89 C135.36,255.11 135.99,255.34 136.62,255.56 C137.26,255.79 137.89,256.01 138.53,256.24 C139.16,256.47 139.79,256.70 140.42,256.93 C141.06,257.16 141.69,257.39 142.32,257.62 C142.95,257.85 143.58,258.09 144.21,258.32 C144.84,258.56 145.47,258.79 146.10,259.03 C146.73,259.27 147.36,259.51 147.99,259.75 C148.62,259.99 149.25,260.23 149.88,260.47 C150.51,260.71 151.13,260.95 151.76,261.20 C152.39,261.44 153.02,261.69 153.64,261.94 C154.27,262.18 154.90,262.43 155.52,262.68 C156.15,262.93 156.77,263.18 157.40,263.43 C158.02,263.68 158.65,263.93 159.27,264.19 C159.89,264.44 160.52,264.69 161.14,264.95 C161.77,265.21 162.39,265.46 163.01,265.72 C163.63,265.98 164.26,266.24 164.88,266.50 C165.50,266.76 166.12,267.02 166.74,267.28 C167.36,267.54 167.98,267.80 168.60,268.07 C169.22,268.33 169.84,268.60 170.46,268.86 C171.08,269.13 171.70,269.40 172.32,269.66 C172.94,269.93 173.55,270.20 174.17,270.47 C174.79,270.74 175.41,271.01 176.02,271.28 C176.64,271.56 177.26,271.83 177.87,272.10 C178.49,272.38 179.10,272.65 179.72,272.93 C180.33,273.20 180.95,273.48 181.56,273.76 C182.18,274.03 182.79,274.31 183.40,274.59 C184.02,274.87 184.63,275.15 185.24,275.43 C185.86,275.71 186.47,275.99 187.08,276.28 C187.69,276.56 188.30,276.84 188.92,277.13 C189.53,277.41 190.14,277.70 190.75,277.98 C191.36,278.27 191.97,278.56 192.58,278.84 C193.19,279.13 193.80,279.42 194.40,279.71 C195.01,280.00 195.62,280.29 196.23,280.58 C196.84,280.87 197.45,281.16 198.05,281.46 C198.66,281.75 199.27,282.04 199.87,282.34 C200.48,282.63 201.08,282.92 201.69,283.22 C202.30,283.51 202.90,283.81 203.51,284.11 C204.11,284.40 204.71,284.70 205.32,285.00 C205.92,285.30 206.53,285.60 207.13,285.90 C207.73,286.20 208.33,286.50 208.94,286.80 C209.54,287.10 210.14,287.40 210.74,287.70 C211.34,288.01 211.95,288.31 212.55,288.61 C213.15,288.92 213.75,289.22 214.35,289.53 C214.95,289.83 215.55,290.14 216.15,290.44 C216.75,290.75 217.34,291.06 217.94,291.36 C218.54,291.67 219.14,291.98 219.74,292.29 C220.33,292.60 220.93,292.90 221.53,293.21 C222.12,293.52 222.72,293.83 223.32,294.14 C223.91,294.46 224.51,294.77 225.10,295.08 C225.70,295.39 226.29,295.70 226.89,296.02 C227.48,296.33 228.08,296.64 228.67,296.96 C229.26,297.27 229.86,297.58 230.45,297.90 C231.04,298.21 231.64,298.53 232.23,298.84 C232.82,299.16 233.41,299.48 234.00,299.79 C234.59,300.11 235.19,300.43 235.78,300.74 C236.37,301.06 236.96,301.38 237.55,301.70 C238.14,302.02 238.73,302.34 239.31,302.65 C239.90,302.97 240.49,303.29 241.08,303.61 C241.67,303.93 242.26,304.25 242.84,304.57 C243.43,304.90 244.02,305.22 244.61,305.54 C245.19,305.86 246.07,306.34 246.36,306.50" class="cv" stroke="#c31c28"/>
<path d="M45.77,331.12 C45.96,330.82 46.50,329.95 46.86,329.37 C47.22,328.78 47.57,328.20 47.93,327.62 C48.29,327.03 48.64,326.45 48.99,325.86 C49.34,325.28 49.69,324.70 50.04,324.11 C50.39,323.53 50.74,322.94 51.09,322.36 C51.43,321.77 51.78,321.19 52.12,320.60 C52.47,320.02 52.81,319.43 53.15,318.85 C53.49,318.27 53.83,317.68 54.17,317.10 C54.51,316.51 54.85,315.93 55.19,315.34 C55.53,314.76 55.87,314.18 56.21,313.59 C56.55,313.01 56.88,312.42 57.22,311.84 C57.56,311.26 57.89,310.67 58.23,310.09 C58.57,309.51 58.90,308.93 59.24,308.34 C59.57,307.76 59.91,307.18 60.25,306.60 C60.58,306.02 60.92,305.44 61.26,304.86 C61.59,304.28 61.93,303.70 62.27,303.12 C62.60,302.54 62.94,301.96 63.28,301.38 C63.62,300.80 63.96,300.22 64.30,299.65 C64.64,299.07 64.98,298.49 65.32,297.92 C65.66,297.34 66.00,296.77 66.34,296.19 C66.69,295.62 67.03,295.04 67.38,294.47 C67.72,293.90 68.07,293.32 68.42,292.75 C68.77,292.18 69.12,291.61 69.47,291.04 C69.82,290.47 70.17,289.90 70.52,289.34 C70.88,288.77 71.23,288.20 71.59,287.63 C71.95,287.07 72.31,286.50 72.67,285.94 C73.03,285.38 73.39,284.81 73.76,284.25 C74.13,283.69 74.49,283.13 74.86,282.57 C75.23,282.01 75.61,281.45 75.98,280.89 C76.35,280.34 76.73,279.78 77.11,279.22 C77.49,278.67 77.87,278.12 78.26,277.56 C78.64,277.01 79.03,276.46 79.42,275.91 C79.81,275.36 80.21,274.81 80.60,274.26 C81.00,273.72 81.40,273.17 81.80,272.63 C82.20,272.08 82.61,271.54 83.02,271.00 C83.43,270.46 83.84,269.92 84.26,269.38 C84.67,268.84 85.09,268.30 85.52,267.77 C85.94,267.23 86.37,266.70 86.80,266.17 C87.23,265.64 87.66,265.11 88.10,264.58 C88.54,264.05 88.98,263.52 89.43,263.00 C89.88,262.47 90.33,261.95 90.78,261.43 C91.24,260.91 91.70,260.40 92.16,259.88 C92.62,259.37 93.09,258.86 93.56,258.35 C94.03,257.84 94.51,257.34 94.99,256.84 C95.47,256.34 95.95,255.85 96.44,255.36 C96.93,254.87 97.42,254.38 97.92,253.90 C98.41,253.42 98.92,252.94 99.42,252.47 C99.93,252.00 100.44,251.53 100.95,251.08 C101.47,250.62 101.99,250.16 102.51,249.71 C103.04,249.27 103.57,248.83 104.10,248.39 C104.63,247.96 105.17,247.53 105.71,247.11 C106.26,246.69 106.80,246.28 107.36,245.87 C107.91,245.47 108.47,245.07 109.03,244.68 C109.59,244.29 110.16,243.91 110.73,243.53 C111.30,243.16 111.88,242.80 112.46,242.44 C113.04,242.09 113.63,241.74 114.22,241.40 C114.81,241.07 115.41,240.74 116.01,240.42 C116.61,240.10 117.21,239.79 117.82,239.50 C118.43,239.20 119.04,238.91 119.66,238.64 C120.27,238.36 120.89,238.09 121.52,237.84 C122.14,237.59 122.76,237.34 123.39,237.11 C124.02,236.88 124.65,236.66 125.29,236.45 C125.92,236.24 126.55,236.05 127.19,235.86 C127.83,235.68 128.47,235.51 129.11,235.35 C129.75,235.19 130.39,235.05 131.04,234.92 C131.68,234.78 132.32,234.67 132.97,234.56 C133.61,234.46 134.26,234.36 134.91,234.29 C135.55,234.21 136.20,234.15 136.84,234.10 C137.49,234.05 138.14,234.02 138.78,234.00 C139.43,233.98 140.08,233.97 140.72,233.98 C141.37,233.98 142.01,234.00 142.66,234.03 C143.30,234.07 143.95,234.11 144.59,234.17 C145.24,234.23 145.88,234.30 146.52,234.38 C147.16,234.46 147.81,234.56 148.45,234.66 C149.09,234.77 149.73,234.89 150.37,235.02 C151.01,235.15 151.65,235.29 152.28,235.44 C152.92,235.60 153.55,235.76 154.19,235.93 C154.82,236.11 155.46,236.29 156.09,236.49 C156.72,236.68 157.35,236.89 157.98,237.11 C158.60,237.32 159.23,237.55 159.85,237.78 C160.48,238.02 161.10,238.26 161.72,238.52 C162.34,238.77 162.96,239.04 163.58,239.31 C164.19,239.58 164.81,239.86 165.42,240.15 C166.03,240.44 166.64,240.74 167.25,241.05 C167.86,241.36 168.46,241.67 169.06,242.00 C169.66,242.32 170.26,242.65 170.86,242.99 C171.46,243.33 172.05,243.67 172.64,244.03 C173.23,244.38 173.82,244.74 174.41,245.11 C174.99,245.47 175.57,245.85 176.15,246.23 C176.73,246.61 177.30,246.99 177.87,247.39 C178.45,247.78 179.01,248.18 179.58,248.58 C180.14,248.99 180.70,249.40 181.26,249.81 C181.82,250.23 182.37,250.65 182.92,251.07 C183.47,251.50 184.02,251.93 184.56,252.36 C185.10,252.80 185.64,253.24 186.17,253.68 C186.70,254.12 187.23,254.57 187.76,255.02 C188.28,255.48 188.80,255.93 189.32,256.39 C189.83,256.85 190.35,257.31 190.85,257.78 C191.36,258.24 191.86,258.71 192.36,259.19 C192.86,259.66 193.35,260.13 193.84,260.61 C194.33,261.09 194.81,261.57 195.29,262.06 C195.77,262.54 196.25,263.03 196.72,263.52 C197.19,264.01 197.66,264.50 198.12,265.00 C198.58,265.50 199.04,266.00 199.50,266.50 C199.95,267.00 200.41,267.51 200.85,268.01 C201.30,268.52 201.74,269.03 202.18,269.54 C202.62,270.06 203.06,270.57 203.49,271.09 C203.93,271.61 204.35,272.13 204.78,272.65 C205.20,273.18 205.63,273.70 206.05,274.23 C206.46,274.76 206.88,275.29 207.29,275.82 C207.70,276.35 208.11,276.89 208.51,277.43 C208.92,277.96 209.32,278.50 209.72,279.04 C210.12,279.59 210.51,280.13 210.91,280.68 C211.30,281.22 211.69,281.77 212.08,282.32 C212.46,282.87 212.85,283.42 213.23,283.98 C213.61,284.53 213.99,285.09 214.36,285.65 C214.74,286.20 215.11,286.76 215.48,287.32 C215.85,287.89 216.22,288.45 216.58,289.01 C216.95,289.58 217.31,290.15 217.67,290.71 C218.03,291.28 218.39,291.85 218.74,292.42 C219.10,293.00 219.45,293.57 219.80,294.14 C220.15,294.72 220.50,295.29 220.85,295.87 C221.20,296.45 221.54,297.03 221.88,297.61 C222.23,298.19 222.57,298.77 222.90,299.35 C223.24,299.93 223.58,300.52 223.92,301.10 C224.25,301.69 224.58,302.27 224.92,302.86 C225.25,303.45 225.58,304.04 225.91,304.63 C226.23,305.22 226.56,305.81 226.89,306.40 C227.21,306.99 227.54,307.58 227.86,308.17 C228.18,308.77 228.50,309.36 228.82,309.96 C229.14,310.55 229.46,311.15 229.78,311.74 C230.10,312.34 230.41,312.94 230.73,313.53 C231.04,314.13 231.36,314.73 231.67,315.33 C231.99,315.93 232.30,316.53 232.61,317.12 C232.92,317.72 233.23,318.32 233.54,318.92 C233.85,319.53 234.16,320.13 234.47,320.73 C234.78,321.33 235.09,321.93 235.40,322.53 C235.70,323.13 236.01,323.74 236.32,324.34 C236.62,324.94 236.93,325.54 237.24,326.14 C237.54,326.75 237.85,327.35 238.15,327.95 C238.46,328.55 238.76,329.16 239.07,329.76 C239.38,330.36 239.68,330.96 239.99,331.56 C240.29,332.17 240.60,332.77 240.90,333.37 C241.21,333.97 241.51,334.57 241.82,335.17 C242.12,335.77 242.43,336.38 242.73,336.98 C243.04,337.58 243.35,338.18 243.65,338.78 C243.96,339.37 244.27,339.97 244.58,340.57 C244.88,341.17 245.19,341.77 245.50,342.37 C245.81,342.96 246.28,343.86 246.43,344.16" class="cv" stroke="#4e7229"/>
<text x="61" y="331.6" class="lg" fill="#c31c28">Myp2p/Myo2p</text>
<text x="61" y="346.9" class="lg" fill="#4a1b8c">Act2p</text>
<text x="61" y="362.1" class="lg" fill="#4862b2">Ain1p</text>
<text x="61" y="376.6" class="lg" fill="#4e7229">Cdc15p</text>

<!-- ============ Panel A' ============ -->
<text transform="translate(278,14) scale(0.94,1)" class="pl">A’</text>
<text x="305.9" y="93.8" class="tk" textLength="14.7" lengthAdjust="spacingAndGlyphs">1.0</text>
<text x="319" y="176.6" class="tk" text-anchor="end">0</text>
<text x="323.9" y="186.8" class="tk" text-anchor="middle">0</text>
<text x="423" y="186.8" class="tk" text-anchor="middle">50</text>
<text x="523" y="186.8" class="tk" text-anchor="middle">100</text>
<text transform="translate(285.7,97.5) rotate(-90)" class="yl" text-anchor="middle">Normalized Radial</text>
<text transform="translate(300.7,98.25) rotate(-90)" class="yl" text-anchor="middle">Constriction Speed</text>
<path d="M322.60,161.00 C323.17,159.92 324.55,156.83 326.00,154.50 C327.45,152.17 329.63,149.38 331.30,147.00 C332.97,144.62 334.13,142.62 336.00,140.20 C337.87,137.78 340.50,134.83 342.50,132.50 C344.50,130.17 346.12,128.28 348.00,126.20 C349.88,124.12 351.97,121.92 353.80,120.00 C355.63,118.08 357.12,116.53 359.00,114.70 C360.88,112.87 363.27,110.68 365.10,109.00 C366.93,107.32 368.13,106.08 370.00,104.60 C371.87,103.12 374.47,101.37 376.30,100.10 C378.13,98.83 379.38,98.02 381.00,97.00 C382.62,95.98 384.33,94.92 386.00,94.00 C387.67,93.08 389.33,92.25 391.00,91.50 C392.67,90.75 394.17,90.13 396.00,89.50 C397.83,88.87 400.17,88.17 402.00,87.70 C403.83,87.23 405.18,86.93 407.00,86.70 C408.82,86.47 411.07,86.33 412.90,86.30 C414.73,86.27 416.17,86.33 418.00,86.50 C419.83,86.67 422.07,86.95 423.90,87.30 C425.73,87.65 427.17,88.07 429.00,88.60 C430.83,89.13 433.07,89.80 434.90,90.50 C436.73,91.20 437.98,91.80 440.00,92.80 C442.02,93.80 444.50,95.33 447.00,96.50 C449.50,97.67 452.50,98.47 455.00,99.80 C457.50,101.13 459.50,102.63 462.00,104.50 C464.50,106.37 467.42,108.75 470.00,111.00 C472.58,113.25 475.00,115.50 477.50,118.00 C480.00,120.50 482.75,123.58 485.00,126.00 C487.25,128.42 489.00,130.23 491.00,132.50 C493.00,134.77 495.17,137.88 497.00,139.60 C498.83,141.32 500.50,142.48 502.00,142.80 C503.50,143.12 504.83,142.13 506.00,141.50 C507.17,140.87 508.00,140.42 509.00,139.00 C510.00,137.58 511.17,135.00 512.00,133.00 C512.83,131.00 513.42,128.08 514.00,127.00 C514.58,125.92 515.03,125.50 515.50,126.50 C515.97,127.50 516.42,129.92 516.80,133.00 C517.18,136.08 517.50,140.50 517.80,145.00 C518.10,149.50 518.47,157.50 518.60,160.00 L518.60,162.00 C518.25,162.58 517.27,165.08 516.50,165.50 C515.73,165.92 514.92,164.67 514.00,164.50 C513.08,164.33 512.00,164.25 511.00,164.50 C510.00,164.75 509.00,165.58 508.00,166.00 C507.00,166.42 506.00,167.08 505.00,167.00 C504.00,166.92 503.33,166.50 502.00,165.50 C500.67,164.50 498.83,162.75 497.00,161.00 C495.17,159.25 493.00,157.18 491.00,155.00 C489.00,152.82 487.23,150.72 485.00,147.90 C482.77,145.08 480.10,141.23 477.60,138.10 C475.10,134.97 472.50,132.12 470.00,129.10 C467.50,126.08 465.10,123.02 462.60,120.00 C460.10,116.98 456.93,113.05 455.00,111.00 C453.07,108.95 452.50,108.95 451.00,107.70 C449.50,106.45 447.83,105.03 446.00,103.50 C444.17,101.97 441.85,99.72 440.00,98.50 C438.15,97.28 436.73,96.95 434.90,96.20 C433.07,95.45 430.83,94.62 429.00,94.00 C427.17,93.38 425.73,92.92 423.90,92.50 C422.07,92.08 419.83,91.72 418.00,91.50 C416.17,91.28 414.73,91.18 412.90,91.20 C411.07,91.22 408.82,91.37 407.00,91.60 C405.18,91.83 403.83,92.12 402.00,92.60 C400.17,93.08 397.83,93.85 396.00,94.50 C394.17,95.15 392.67,95.75 391.00,96.50 C389.33,97.25 387.67,98.08 386.00,99.00 C384.33,99.92 382.62,100.97 381.00,102.00 C379.38,103.03 378.13,103.90 376.30,105.20 C374.47,106.50 371.87,108.28 370.00,109.80 C368.13,111.32 366.93,112.60 365.10,114.30 C363.27,116.00 360.88,118.15 359.00,120.00 C357.12,121.85 355.63,123.48 353.80,125.40 C351.97,127.32 349.88,129.40 348.00,131.50 C346.12,133.60 344.50,135.58 342.50,138.00 C340.50,140.42 337.87,143.50 336.00,146.00 C334.13,148.50 332.80,150.58 331.30,153.00 C329.80,155.42 328.25,158.08 327.00,160.50 C325.75,162.92 324.33,166.33 323.80,167.50 Z" fill="#c4c4c4"/>
<path d="M322.18,160.35 C322.27,160.04 322.54,159.13 322.72,158.52 C322.90,157.90 323.08,157.29 323.25,156.67 C323.42,156.06 323.59,155.44 323.76,154.82 C323.92,154.20 324.09,153.57 324.25,152.95 C324.41,152.33 324.57,151.70 324.72,151.07 C324.88,150.44 325.03,149.81 325.18,149.18 C325.33,148.55 325.48,147.91 325.62,147.28 C325.77,146.64 325.91,146.01 326.05,145.37 C326.19,144.73 326.33,144.09 326.47,143.44 C326.61,142.80 326.74,142.16 326.88,141.51 C327.01,140.87 327.14,140.22 327.27,139.57 C327.40,138.93 327.53,138.28 327.66,137.63 C327.78,136.98 327.91,136.32 328.03,135.67 C328.16,135.02 328.28,134.36 328.40,133.71 C328.52,133.05 328.64,132.40 328.76,131.74 C328.88,131.08 329.00,130.42 329.11,129.76 C329.23,129.10 329.35,128.44 329.46,127.78 C329.58,127.12 329.69,126.45 329.81,125.79 C329.92,125.13 330.03,124.46 330.15,123.80 C330.26,123.13 330.37,122.47 330.48,121.80 C330.60,121.13 330.71,120.47 330.82,119.80 C330.93,119.13 331.04,118.46 331.16,117.80 C331.27,117.13 331.38,116.46 331.49,115.79 C331.60,115.12 331.71,114.45 331.83,113.78 C331.94,113.11 332.05,112.44 332.17,111.77 C332.28,111.10 332.39,110.42 332.51,109.75 C332.62,109.08 332.74,108.41 332.85,107.74 C332.97,107.07 333.09,106.39 333.20,105.72 C333.32,105.05 333.44,104.38 333.56,103.71 C333.68,103.04 333.80,102.36 333.92,101.69 C334.04,101.02 334.17,100.35 334.29,99.68 C334.42,99.01 334.54,98.34 334.67,97.67 C334.80,97.00 334.93,96.33 335.06,95.66 C335.19,94.99 335.32,94.32 335.46,93.65 C335.59,92.98 335.73,92.31 335.86,91.64 C336.00,90.97 336.14,90.31 336.29,89.64 C336.43,88.97 336.57,88.31 336.72,87.64 C336.87,86.98 337.02,86.31 337.17,85.65 C337.32,84.98 337.48,84.32 337.63,83.66 C337.79,83.00 337.95,82.33 338.11,81.67 C338.27,81.01 338.44,80.35 338.61,79.70 C338.78,79.04 338.95,78.38 339.12,77.72 C339.30,77.07 339.47,76.41 339.65,75.76 C339.83,75.10 340.02,74.45 340.21,73.80 C340.39,73.15 340.58,72.50 340.78,71.85 C340.97,71.20 341.17,70.55 341.37,69.91 C341.57,69.26 341.78,68.62 341.99,67.97 C342.20,67.33 342.41,66.69 342.63,66.05 C342.84,65.41 343.06,64.77 343.29,64.13 C343.51,63.50 343.74,62.86 343.98,62.23 C344.21,61.60 344.45,60.96 344.69,60.33 C344.93,59.71 345.18,59.08 345.43,58.45 C345.69,57.83 345.94,57.20 346.20,56.58 C346.46,55.96 346.73,55.34 347.00,54.72 C347.27,54.10 347.55,53.49 347.83,52.87 C348.11,52.26 348.39,51.65 348.69,51.04 C348.98,50.43 349.27,49.82 349.58,49.22 C349.88,48.61 350.18,48.01 350.50,47.41 C350.81,46.81 351.13,46.22 351.45,45.62 C351.78,45.03 352.11,44.43 352.44,43.84 C352.78,43.25 353.12,42.67 353.47,42.08 C353.82,41.50 354.17,40.92 354.53,40.34 C354.89,39.76 355.26,39.18 355.63,38.61 C356.00,38.03 356.38,37.46 356.76,36.90 C357.15,36.33 357.54,35.76 357.94,35.20 C358.34,34.64 358.74,34.08 359.15,33.53 C359.56,32.97 359.98,32.42 360.40,31.88 C360.83,31.33 361.26,30.79 361.69,30.26 C362.13,29.72 362.57,29.19 363.02,28.67 C363.47,28.15 363.92,27.63 364.38,27.12 C364.84,26.61 365.30,26.11 365.78,25.62 C366.25,25.12 366.72,24.64 367.21,24.16 C367.69,23.68 368.18,23.21 368.67,22.75 C369.17,22.29 369.67,21.83 370.17,21.39 C370.68,20.95 371.19,20.52 371.70,20.10 C372.22,19.67 372.74,19.26 373.26,18.86 C373.79,18.46 374.32,18.07 374.86,17.70 C375.39,17.32 375.94,16.96 376.48,16.60 C377.03,16.25 377.58,15.91 378.14,15.59 C378.69,15.26 379.25,14.95 379.82,14.65 C380.39,14.35 380.96,14.06 381.53,13.79 C382.11,13.52 382.69,13.27 383.27,13.03 C383.86,12.79 384.45,12.57 385.04,12.36 C385.63,12.15 386.23,11.96 386.83,11.78 C387.44,11.61 388.04,11.45 388.65,11.31 C389.26,11.17 389.88,11.05 390.50,10.94 C391.12,10.84 391.74,10.75 392.37,10.68 C392.99,10.61 393.62,10.55 394.25,10.52 C394.88,10.48 395.52,10.46 396.15,10.45 C396.78,10.45 397.42,10.46 398.06,10.49 C398.70,10.51 399.33,10.55 399.97,10.61 C400.61,10.66 401.25,10.73 401.89,10.82 C402.52,10.90 403.16,11.00 403.80,11.11 C404.43,11.22 405.07,11.35 405.70,11.49 C406.33,11.63 406.96,11.78 407.59,11.94 C408.22,12.10 408.84,12.28 409.46,12.47 C410.08,12.65 410.70,12.85 411.31,13.06 C411.93,13.27 412.54,13.49 413.14,13.72 C413.74,13.95 414.34,14.19 414.94,14.45 C415.53,14.70 416.12,14.96 416.70,15.23 C417.29,15.50 417.87,15.78 418.44,16.07 C419.02,16.37 419.59,16.67 420.15,16.98 C420.71,17.29 421.27,17.60 421.83,17.93 C422.38,18.26 422.93,18.60 423.48,18.94 C424.02,19.29 424.57,19.64 425.10,20.01 C425.64,20.37 426.17,20.74 426.70,21.12 C427.23,21.50 427.75,21.88 428.27,22.28 C428.79,22.67 429.30,23.08 429.81,23.49 C430.32,23.90 430.83,24.32 431.33,24.74 C431.83,25.17 432.33,25.60 432.82,26.04 C433.32,26.48 433.80,26.93 434.29,27.38 C434.78,27.83 435.26,28.29 435.74,28.76 C436.21,29.22 436.69,29.70 437.16,30.18 C437.63,30.66 438.09,31.14 438.56,31.63 C439.02,32.12 439.48,32.62 439.93,33.12 C440.39,33.62 440.84,34.13 441.29,34.64 C441.74,35.16 442.18,35.68 442.62,36.20 C443.06,36.72 443.50,37.25 443.94,37.79 C444.37,38.32 444.80,38.86 445.23,39.40 C445.66,39.94 446.08,40.49 446.50,41.04 C446.93,41.59 447.34,42.15 447.76,42.70 C448.18,43.26 448.59,43.83 449.00,44.39 C449.41,44.96 449.81,45.53 450.22,46.10 C450.62,46.68 451.02,47.25 451.42,47.83 C451.82,48.41 452.21,48.99 452.61,49.58 C453.00,50.17 453.39,50.75 453.78,51.34 C454.16,51.94 454.55,52.53 454.93,53.12 C455.31,53.72 455.69,54.32 456.07,54.92 C456.45,55.52 456.82,56.12 457.20,56.72 C457.57,57.32 457.94,57.93 458.31,58.53 C458.67,59.14 459.04,59.75 459.40,60.35 C459.77,60.96 460.13,61.57 460.49,62.18 C460.85,62.79 461.21,63.40 461.56,64.01 C461.92,64.63 462.27,65.24 462.63,65.85 C462.98,66.46 463.33,67.07 463.68,67.69 C464.03,68.30 464.37,68.91 464.72,69.52 C465.06,70.13 465.41,70.74 465.75,71.36 C466.09,71.97 466.43,72.58 466.77,73.18 C467.11,73.79 467.44,74.40 467.78,75.01 C468.12,75.62 468.45,76.22 468.79,76.83 C469.12,77.43 469.45,78.03 469.78,78.63 C470.11,79.23 470.44,79.83 470.77,80.43 C471.10,81.03 471.43,81.63 471.75,82.22 C472.08,82.82 472.40,83.41 472.73,84.01 C473.05,84.60 473.37,85.19 473.69,85.78 C474.01,86.37 474.33,86.96 474.65,87.55 C474.97,88.14 475.28,88.73 475.60,89.31 C475.92,89.90 476.23,90.49 476.54,91.07 C476.86,91.66 477.17,92.24 477.48,92.82 C477.79,93.41 478.10,93.99 478.41,94.57 C478.71,95.16 479.02,95.74 479.33,96.32 C479.63,96.90 479.93,97.48 480.24,98.06 C480.54,98.64 480.84,99.22 481.14,99.80 C481.44,100.38 481.74,100.96 482.04,101.54 C482.33,102.12 482.63,102.70 482.93,103.28 C483.22,103.86 483.51,104.44 483.81,105.01 C484.10,105.59 484.39,106.17 484.68,106.75 C484.97,107.33 485.26,107.91 485.54,108.49 C485.83,109.07 486.11,109.65 486.40,110.23 C486.68,110.81 486.97,111.39 487.25,111.97 C487.53,112.55 487.81,113.13 488.09,113.71 C488.37,114.30 488.64,114.88 488.92,115.46 C489.20,116.04 489.47,116.63 489.74,117.21 C490.02,117.80 490.29,118.38 490.56,118.97 C490.83,119.55 491.10,120.14 491.37,120.73 C491.64,121.32 491.90,121.91 492.17,122.50 C492.43,123.08 492.70,123.68 492.96,124.27 C493.22,124.86 493.48,125.45 493.74,126.05 C494.00,126.64 494.26,127.24 494.52,127.83 C494.78,128.43 495.03,129.03 495.29,129.63 C495.54,130.23 495.79,130.83 496.05,131.43 C496.30,132.04 496.55,132.64 496.80,133.25 C497.04,133.85 497.29,134.46 497.54,135.07 C497.78,135.68 498.03,136.29 498.27,136.90 C498.51,137.52 498.76,138.13 499.00,138.75 C499.24,139.36 499.48,139.98 499.71,140.60 C499.95,141.22 500.19,141.85 500.42,142.47 C500.66,143.10 500.89,143.73 501.12,144.35 C501.35,144.98 501.58,145.62 501.81,146.25 C502.04,146.88 502.27,147.52 502.50,148.16 C502.72,148.80 502.95,149.44 503.17,150.08 C503.39,150.73 503.62,151.38 503.84,152.03 C504.06,152.67 504.28,153.33 504.49,153.98 C504.71,154.64 504.93,155.29 505.14,155.95 C505.36,156.61 505.57,157.28 505.78,157.94 C506.00,158.61 506.21,159.28 506.41,159.95 C506.62,160.62 506.83,161.30 507.04,161.98 C507.24,162.66 507.45,163.34 507.65,164.02 C507.85,164.71 508.06,165.40 508.26,166.09 C508.46,166.78 508.66,167.48 508.85,168.18 C509.05,168.87 509.25,169.58 509.44,170.28 C509.64,170.99 509.92,172.06 510.02,172.41 L506.41,172.49 C506.30,172.16 505.97,171.18 505.75,170.53 C505.53,169.88 505.30,169.23 505.07,168.59 C504.84,167.94 504.61,167.30 504.38,166.66 C504.14,166.02 503.91,165.38 503.67,164.74 C503.43,164.10 503.18,163.47 502.94,162.83 C502.69,162.20 502.44,161.57 502.19,160.94 C501.94,160.31 501.69,159.68 501.43,159.06 C501.17,158.43 500.91,157.81 500.65,157.18 C500.39,156.56 500.13,155.94 499.86,155.32 C499.59,154.70 499.33,154.08 499.05,153.47 C498.78,152.85 498.51,152.24 498.23,151.62 C497.96,151.01 497.68,150.40 497.40,149.79 C497.12,149.18 496.84,148.57 496.55,147.96 C496.27,147.36 495.98,146.75 495.69,146.14 C495.41,145.54 495.12,144.94 494.82,144.34 C494.53,143.73 494.24,143.13 493.94,142.53 C493.65,141.93 493.35,141.34 493.05,140.74 C492.75,140.14 492.45,139.54 492.15,138.95 C491.85,138.35 491.54,137.76 491.24,137.17 C490.93,136.57 490.63,135.98 490.32,135.39 C490.01,134.80 489.70,134.21 489.39,133.62 C489.08,133.03 488.77,132.44 488.45,131.86 C488.14,131.27 487.82,130.68 487.51,130.10 C487.19,129.51 486.88,128.92 486.56,128.34 C486.24,127.76 485.92,127.17 485.60,126.59 C485.28,126.00 484.96,125.42 484.64,124.84 C484.32,124.26 484.00,123.68 483.68,123.10 C483.35,122.51 483.03,121.93 482.70,121.35 C482.38,120.77 482.06,120.19 481.73,119.61 C481.40,119.03 481.08,118.45 480.75,117.88 C480.43,117.30 480.10,116.72 479.77,116.14 C479.44,115.56 479.12,114.98 478.79,114.41 C478.46,113.83 478.13,113.25 477.80,112.67 C477.48,112.09 477.15,111.52 476.82,110.94 C476.49,110.36 476.16,109.78 475.83,109.21 C475.51,108.63 475.18,108.05 474.85,107.47 C474.52,106.90 474.19,106.32 473.86,105.74 C473.54,105.16 473.21,104.58 472.88,104.01 C472.55,103.43 472.22,102.85 471.90,102.27 C471.57,101.69 471.24,101.11 470.92,100.53 C470.59,99.95 470.26,99.37 469.93,98.79 C469.61,98.21 469.28,97.64 468.95,97.06 C468.62,96.48 468.29,95.90 467.97,95.32 C467.64,94.74 467.31,94.16 466.97,93.58 C466.64,93.00 466.31,92.42 465.98,91.84 C465.64,91.26 465.31,90.68 464.97,90.10 C464.63,89.52 464.30,88.94 463.96,88.36 C463.62,87.78 463.28,87.20 462.93,86.62 C462.59,86.04 462.24,85.46 461.90,84.88 C461.55,84.30 461.20,83.72 460.85,83.14 C460.49,82.56 460.14,81.99 459.78,81.41 C459.42,80.83 459.06,80.25 458.70,79.68 C458.34,79.10 457.97,78.52 457.60,77.94 C457.23,77.37 456.86,76.79 456.48,76.22 C456.11,75.64 455.73,75.06 455.34,74.49 C454.96,73.91 454.57,73.34 454.18,72.77 C453.79,72.19 453.40,71.62 453.00,71.04 C452.60,70.47 452.19,69.90 451.79,69.33 C451.38,68.76 450.97,68.18 450.55,67.61 C450.13,67.04 449.71,66.47 449.29,65.90 C448.86,65.34 448.43,64.77 447.99,64.20 C447.56,63.63 447.12,63.07 446.67,62.51 C446.23,61.94 445.78,61.38 445.32,60.83 C444.87,60.27 444.41,59.72 443.95,59.17 C443.48,58.62 443.01,58.07 442.54,57.53 C442.07,56.99 441.59,56.46 441.11,55.93 C440.63,55.40 440.14,54.88 439.65,54.36 C439.16,53.85 438.67,53.34 438.17,52.84 C437.67,52.33 437.17,51.84 436.66,51.35 C436.15,50.87 435.64,50.39 435.12,49.92 C434.61,49.46 434.09,49.00 433.56,48.55 C433.04,48.10 432.51,47.66 431.98,47.23 C431.45,46.81 430.91,46.39 430.37,45.99 C429.83,45.58 429.29,45.19 428.74,44.81 C428.20,44.43 427.64,44.06 427.09,43.71 C426.53,43.35 425.97,43.01 425.41,42.69 C424.85,42.36 424.28,42.05 423.71,41.75 C423.14,41.46 422.57,41.18 421.99,40.91 C421.42,40.65 420.84,40.40 420.25,40.17 C419.67,39.93 419.08,39.72 418.49,39.52 C417.90,39.32 417.30,39.14 416.71,38.98 C416.11,38.82 415.51,38.67 414.91,38.54 C414.30,38.41 413.70,38.30 413.09,38.20 C412.48,38.10 411.87,38.02 411.26,37.96 C410.65,37.89 410.04,37.84 409.42,37.81 C408.81,37.78 408.19,37.76 407.57,37.75 C406.96,37.75 406.34,37.76 405.72,37.79 C405.10,37.81 404.48,37.86 403.86,37.91 C403.24,37.97 402.62,38.04 402.00,38.12 C401.37,38.20 400.75,38.30 400.13,38.41 C399.51,38.52 398.89,38.64 398.27,38.78 C397.65,38.92 397.04,39.07 396.42,39.23 C395.80,39.40 395.18,39.57 394.57,39.76 C393.95,39.95 393.34,40.15 392.73,40.36 C392.12,40.57 391.51,40.80 390.90,41.03 C390.29,41.27 389.69,41.52 389.08,41.78 C388.48,42.04 387.88,42.31 387.28,42.59 C386.69,42.87 386.09,43.16 385.50,43.46 C384.91,43.76 384.32,44.08 383.74,44.40 C383.16,44.72 382.57,45.05 382.00,45.40 C381.42,45.74 380.85,46.09 380.28,46.45 C379.71,46.81 379.15,47.18 378.59,47.56 C378.03,47.94 377.48,48.33 376.93,48.73 C376.38,49.12 375.84,49.53 375.30,49.94 C374.76,50.35 374.23,50.78 373.70,51.20 C373.18,51.63 372.66,52.07 372.14,52.51 C371.63,52.96 371.12,53.41 370.62,53.87 C370.12,54.33 369.62,54.79 369.13,55.26 C368.64,55.74 368.16,56.22 367.69,56.70 C367.22,57.18 366.75,57.68 366.29,58.17 C365.83,58.67 365.38,59.17 364.94,59.68 C364.50,60.19 364.06,60.70 363.63,61.22 C363.21,61.74 362.79,62.26 362.37,62.79 C361.96,63.32 361.56,63.86 361.16,64.40 C360.76,64.94 360.37,65.48 359.98,66.03 C359.60,66.58 359.22,67.14 358.85,67.69 C358.48,68.25 358.12,68.82 357.76,69.38 C357.40,69.95 357.05,70.52 356.71,71.10 C356.36,71.68 356.02,72.26 355.69,72.84 C355.36,73.43 355.03,74.02 354.71,74.61 C354.39,75.20 354.08,75.80 353.77,76.40 C353.46,77.00 353.15,77.60 352.85,78.21 C352.56,78.82 352.26,79.43 351.97,80.04 C351.69,80.65 351.40,81.27 351.12,81.89 C350.85,82.51 350.57,83.14 350.30,83.76 C350.03,84.39 349.77,85.02 349.51,85.65 C349.25,86.28 349.00,86.92 348.74,87.56 C348.49,88.19 348.25,88.84 348.00,89.48 C347.76,90.12 347.52,90.77 347.29,91.41 C347.05,92.06 346.82,92.71 346.59,93.36 C346.36,94.01 346.14,94.66 345.92,95.32 C345.69,95.98 345.48,96.63 345.26,97.29 C345.05,97.95 344.83,98.61 344.62,99.27 C344.42,99.93 344.21,100.60 344.01,101.26 C343.80,101.93 343.60,102.59 343.40,103.26 C343.20,103.92 343.01,104.59 342.81,105.26 C342.62,105.93 342.43,106.60 342.24,107.27 C342.05,107.94 341.86,108.61 341.67,109.28 C341.48,109.96 341.30,110.63 341.12,111.30 C340.93,111.97 340.75,112.65 340.57,113.32 C340.39,113.99 340.21,114.67 340.03,115.34 C339.85,116.01 339.67,116.69 339.50,117.36 C339.32,118.03 339.14,118.70 338.97,119.38 C338.79,120.05 338.62,120.72 338.44,121.39 C338.27,122.06 338.10,122.73 337.92,123.40 C337.75,124.07 337.57,124.74 337.40,125.41 C337.22,126.08 337.05,126.75 336.88,127.41 C336.70,128.08 336.53,128.75 336.35,129.41 C336.17,130.07 336.00,130.74 335.82,131.40 C335.65,132.06 335.47,132.72 335.29,133.38 C335.11,134.03 334.93,134.69 334.75,135.34 C334.57,136.00 334.39,136.65 334.20,137.30 C334.02,137.95 333.83,138.60 333.65,139.25 C333.46,139.89 333.27,140.54 333.08,141.18 C332.89,141.82 332.70,142.46 332.50,143.09 C332.31,143.73 332.11,144.36 331.91,145.00 C331.71,145.63 331.51,146.25 331.31,146.88 C331.10,147.50 330.89,148.13 330.69,148.75 C330.48,149.37 330.26,149.98 330.05,150.59 C329.83,151.21 329.61,151.82 329.39,152.42 C329.17,153.03 328.94,153.63 328.72,154.23 C328.49,154.83 328.25,155.42 328.02,156.01 C327.78,156.60 327.54,157.19 327.30,157.77 C327.05,158.35 326.81,158.93 326.55,159.51 C326.30,160.08 326.05,160.65 325.79,161.22 C325.53,161.78 325.26,162.34 324.99,162.90 C324.72,163.46 324.45,164.01 324.17,164.56 C323.89,165.10 323.46,165.91 323.32,166.18 Z" fill="url(#gA1f)" fill-opacity="0.85"/>
<path d="M323.19,163.88 C323.34,163.58 323.77,162.67 324.07,162.08 C324.37,161.48 324.67,160.88 324.98,160.29 C325.30,159.70 325.61,159.11 325.93,158.53 C326.25,157.94 326.58,157.36 326.91,156.78 C327.24,156.20 327.58,155.62 327.92,155.04 C328.27,154.47 328.61,153.90 328.96,153.33 C329.32,152.76 329.67,152.19 330.04,151.63 C330.40,151.06 330.76,150.50 331.13,149.94 C331.50,149.38 331.88,148.82 332.26,148.27 C332.64,147.72 333.02,147.16 333.41,146.62 C333.79,146.07 334.19,145.52 334.58,144.98 C334.98,144.43 335.38,143.89 335.78,143.35 C336.18,142.81 336.59,142.27 337.00,141.74 C337.41,141.20 337.82,140.67 338.24,140.14 C338.66,139.61 339.08,139.08 339.50,138.56 C339.92,138.03 340.35,137.51 340.78,136.99 C341.21,136.46 341.64,135.95 342.08,135.43 C342.51,134.91 342.95,134.40 343.39,133.88 C343.83,133.37 344.28,132.86 344.72,132.35 C345.17,131.84 345.62,131.33 346.07,130.83 C346.52,130.33 346.97,129.82 347.42,129.32 C347.88,128.82 348.34,128.32 348.79,127.82 C349.25,127.33 349.71,126.83 350.17,126.34 C350.64,125.85 351.10,125.35 351.56,124.86 C352.03,124.37 352.50,123.89 352.96,123.40 C353.43,122.91 353.90,122.43 354.37,121.95 C354.84,121.46 355.31,120.98 355.79,120.50 C356.26,120.02 356.73,119.55 357.21,119.07 C357.69,118.60 358.16,118.12 358.64,117.65 C359.12,117.18 359.60,116.72 360.09,116.25 C360.57,115.78 361.05,115.32 361.54,114.86 C362.03,114.40 362.52,113.94 363.01,113.49 C363.50,113.03 363.99,112.58 364.49,112.13 C364.99,111.68 365.48,111.23 365.99,110.79 C366.49,110.35 366.99,109.91 367.50,109.47 C368.01,109.03 368.52,108.60 369.03,108.17 C369.54,107.74 370.06,107.31 370.58,106.89 C371.09,106.47 371.62,106.05 372.14,105.63 C372.67,105.22 373.20,104.81 373.73,104.40 C374.26,103.99 374.80,103.59 375.34,103.19 C375.88,102.79 376.42,102.40 376.97,102.01 C377.52,101.62 378.07,101.23 378.62,100.85 C379.18,100.47 379.74,100.09 380.30,99.72 C380.86,99.34 381.43,98.98 382.00,98.61 C382.58,98.25 383.15,97.89 383.73,97.54 C384.31,97.19 384.90,96.85 385.49,96.51 C386.07,96.17 386.67,95.84 387.26,95.52 C387.86,95.19 388.46,94.88 389.06,94.57 C389.67,94.26 390.28,93.96 390.89,93.67 C391.50,93.38 392.12,93.10 392.73,92.83 C393.35,92.55 393.98,92.29 394.60,92.04 C395.23,91.79 395.86,91.55 396.49,91.32 C397.12,91.09 397.76,90.87 398.40,90.67 C399.04,90.46 399.68,90.27 400.32,90.09 C400.97,89.91 401.62,89.74 402.27,89.59 C402.92,89.43 403.58,89.29 404.23,89.17 C404.89,89.04 405.55,88.93 406.21,88.83 C406.88,88.74 407.54,88.66 408.21,88.59 C408.88,88.52 409.55,88.47 410.22,88.44 C410.90,88.40 411.57,88.38 412.25,88.38 C412.92,88.37 413.60,88.38 414.27,88.40 C414.95,88.42 415.63,88.45 416.31,88.50 C416.98,88.55 417.66,88.61 418.34,88.68 C419.02,88.76 419.69,88.84 420.37,88.94 C421.04,89.04 421.72,89.15 422.39,89.27 C423.06,89.39 423.73,89.53 424.40,89.67 C425.07,89.81 425.74,89.97 426.40,90.14 C427.06,90.30 427.72,90.48 428.38,90.67 C429.04,90.85 429.69,91.05 430.34,91.26 C430.99,91.46 431.64,91.68 432.28,91.90 C432.92,92.13 433.55,92.36 434.18,92.60 C434.81,92.85 435.44,93.10 436.06,93.35 C436.68,93.61 437.29,93.88 437.90,94.16 C438.51,94.43 439.11,94.71 439.71,95.00 C440.31,95.29 440.91,95.59 441.50,95.90 C442.08,96.20 442.67,96.52 443.25,96.83 C443.83,97.15 444.40,97.48 444.97,97.81 C445.54,98.15 446.11,98.49 446.67,98.84 C447.23,99.18 447.79,99.54 448.34,99.89 C448.89,100.25 449.44,100.62 449.99,100.99 C450.53,101.36 451.07,101.74 451.61,102.13 C452.15,102.51 452.68,102.90 453.21,103.29 C453.74,103.69 454.26,104.09 454.79,104.49 C455.31,104.90 455.83,105.31 456.35,105.73 C456.86,106.14 457.37,106.56 457.88,106.99 C458.39,107.41 458.90,107.84 459.40,108.28 C459.91,108.71 460.41,109.15 460.91,109.59 C461.41,110.04 461.90,110.48 462.40,110.93 C462.89,111.38 463.38,111.84 463.87,112.30 C464.36,112.76 464.84,113.22 465.33,113.68 C465.81,114.15 466.29,114.62 466.77,115.09 C467.25,115.56 467.73,116.04 468.21,116.51 C468.68,116.99 469.16,117.47 469.63,117.95 C470.10,118.44 470.57,118.92 471.04,119.41 C471.51,119.90 471.98,120.39 472.45,120.88 C472.92,121.37 473.38,121.87 473.85,122.36 C474.31,122.86 474.78,123.36 475.24,123.86 C475.70,124.36 476.16,124.86 476.63,125.36 C477.09,125.86 477.55,126.36 478.01,126.87 C478.47,127.37 478.93,127.88 479.39,128.38 C479.85,128.89 480.31,129.40 480.77,129.90 C481.23,130.41 481.69,130.92 482.15,131.42 C482.61,131.93 483.07,132.44 483.53,132.95 C483.98,133.45 484.44,133.96 484.91,134.47 C485.37,134.98 485.83,135.48 486.29,135.99 C486.75,136.49 487.21,137.00 487.67,137.50 C488.14,138.01 488.60,138.51 489.07,139.02 C489.53,139.52 490.00,140.02 490.46,140.52 C490.93,141.02 491.40,141.52 491.87,142.01 C492.34,142.51 492.81,143.01 493.28,143.50 C493.75,143.99 494.22,144.48 494.70,144.97 C495.18,145.46 495.65,145.95 496.13,146.43 C496.61,146.92 497.09,147.40 497.57,147.88 C498.06,148.36 498.54,148.84 499.03,149.31 C499.52,149.78 500.01,150.24 500.50,150.70 C501.00,151.16 501.49,151.61 501.99,152.04 C502.49,152.48 503.00,152.91 503.51,153.31 C504.02,153.72 504.53,154.12 505.05,154.49 C505.57,154.85 506.10,155.24 506.62,155.53 C507.14,155.81 507.68,156.09 508.18,156.20 C508.68,156.31 509.17,156.30 509.64,156.16 C510.10,156.02 510.55,155.73 510.96,155.37 C511.38,155.00 511.77,154.51 512.13,153.97 C512.49,153.42 512.82,152.76 513.13,152.12 C513.43,151.47 513.70,150.73 513.96,150.08 C514.22,149.43 514.45,148.74 514.67,148.20 C514.89,147.66 515.09,147.14 515.28,146.81 C515.47,146.49 515.65,146.25 515.83,146.26 C516.01,146.27 516.18,146.47 516.35,146.86 C516.52,147.25 516.68,147.90 516.84,148.61 C517.00,149.31 517.15,150.21 517.28,151.09 C517.42,151.97 517.54,152.98 517.65,153.90 C517.75,154.82 517.84,155.80 517.91,156.62 C517.97,157.45 518.02,158.26 518.03,158.84 C518.05,159.43 518.01,159.93 518.00,160.15" class="cv" stroke="#000" stroke-width="3.4"/>
<path d="M322.68,163.92 C322.76,163.59 323.01,162.61 323.17,161.95 C323.34,161.30 323.50,160.64 323.66,159.99 C323.81,159.33 323.97,158.67 324.13,158.02 C324.28,157.36 324.43,156.70 324.58,156.04 C324.73,155.39 324.88,154.73 325.03,154.07 C325.17,153.41 325.32,152.75 325.46,152.09 C325.60,151.43 325.75,150.77 325.89,150.11 C326.03,149.45 326.16,148.79 326.30,148.13 C326.44,147.47 326.58,146.81 326.71,146.15 C326.85,145.49 326.98,144.82 327.11,144.16 C327.25,143.50 327.38,142.84 327.51,142.18 C327.64,141.52 327.77,140.85 327.90,140.19 C328.03,139.53 328.16,138.87 328.29,138.21 C328.42,137.54 328.55,136.88 328.68,136.22 C328.80,135.56 328.93,134.90 329.06,134.23 C329.19,133.57 329.31,132.91 329.44,132.25 C329.57,131.59 329.70,130.92 329.82,130.26 C329.95,129.60 330.08,128.94 330.21,128.28 C330.34,127.62 330.46,126.96 330.59,126.30 C330.72,125.64 330.85,124.98 330.98,124.32 C331.11,123.66 331.24,123.00 331.38,122.34 C331.51,121.68 331.64,121.02 331.77,120.36 C331.91,119.70 332.04,119.04 332.18,118.39 C332.31,117.73 332.45,117.07 332.59,116.41 C332.72,115.76 332.86,115.10 333.00,114.45 C333.15,113.79 333.29,113.14 333.43,112.48 C333.57,111.83 333.72,111.17 333.87,110.52 C334.01,109.87 334.16,109.21 334.31,108.56 C334.47,107.91 334.62,107.26 334.77,106.61 C334.93,105.96 335.09,105.31 335.24,104.66 C335.40,104.01 335.57,103.36 335.73,102.71 C335.89,102.07 336.06,101.42 336.23,100.77 C336.40,100.13 336.57,99.48 336.74,98.84 C336.92,98.20 337.10,97.55 337.28,96.91 C337.46,96.27 337.64,95.63 337.82,94.99 C338.01,94.35 338.20,93.71 338.39,93.07 C338.58,92.43 338.78,91.80 338.98,91.16 C339.18,90.53 339.38,89.89 339.58,89.26 C339.79,88.62 340.00,87.99 340.21,87.36 C340.43,86.73 340.64,86.10 340.86,85.47 C341.08,84.84 341.31,84.22 341.54,83.59 C341.76,82.96 342.00,82.34 342.23,81.71 C342.47,81.09 342.71,80.47 342.96,79.85 C343.20,79.23 343.45,78.61 343.70,77.99 C343.96,77.37 344.22,76.76 344.48,76.14 C344.74,75.53 345.01,74.91 345.28,74.30 C345.56,73.69 345.83,73.08 346.12,72.47 C346.40,71.86 346.69,71.25 346.98,70.65 C347.27,70.04 347.57,69.44 347.87,68.84 C348.17,68.23 348.48,67.63 348.80,67.03 C349.11,66.44 349.43,65.84 349.75,65.24 C350.08,64.65 350.41,64.05 350.74,63.46 C351.08,62.87 351.42,62.28 351.77,61.69 C352.12,61.10 352.47,60.52 352.83,59.93 C353.19,59.35 353.56,58.77 353.93,58.18 C354.30,57.60 354.68,57.03 355.07,56.45 C355.45,55.87 355.84,55.30 356.24,54.73 C356.64,54.15 357.04,53.58 357.45,53.02 C357.86,52.45 358.28,51.89 358.70,51.33 C359.12,50.77 359.55,50.22 359.99,49.66 C360.42,49.11 360.86,48.57 361.30,48.02 C361.75,47.48 362.20,46.94 362.66,46.41 C363.12,45.88 363.58,45.35 364.05,44.83 C364.51,44.31 364.99,43.79 365.47,43.28 C365.95,42.78 366.43,42.27 366.92,41.78 C367.41,41.28 367.91,40.79 368.41,40.31 C368.91,39.83 369.41,39.35 369.92,38.88 C370.43,38.42 370.95,37.96 371.47,37.51 C371.99,37.06 372.51,36.61 373.04,36.18 C373.57,35.75 374.11,35.32 374.65,34.91 C375.19,34.49 375.73,34.09 376.28,33.69 C376.83,33.30 377.38,32.91 377.94,32.54 C378.50,32.16 379.06,31.79 379.63,31.44 C380.20,31.09 380.77,30.74 381.34,30.41 C381.92,30.08 382.50,29.76 383.08,29.45 C383.67,29.15 384.25,28.85 384.84,28.57 C385.44,28.28 386.03,28.01 386.63,27.76 C387.23,27.50 387.83,27.25 388.44,27.02 C389.05,26.79 389.66,26.58 390.27,26.37 C390.89,26.17 391.51,25.98 392.13,25.80 C392.75,25.63 393.37,25.47 394.00,25.32 C394.62,25.17 395.25,25.04 395.88,24.92 C396.51,24.80 397.14,24.70 397.78,24.61 C398.41,24.52 399.04,24.45 399.68,24.39 C400.31,24.33 400.95,24.28 401.59,24.25 C402.22,24.22 402.86,24.21 403.49,24.21 C404.13,24.20 404.76,24.22 405.40,24.25 C406.03,24.28 406.67,24.32 407.30,24.38 C407.93,24.44 408.56,24.52 409.19,24.61 C409.82,24.70 410.44,24.81 411.07,24.93 C411.69,25.05 412.31,25.19 412.93,25.34 C413.55,25.49 414.16,25.66 414.77,25.85 C415.39,26.03 415.99,26.23 416.60,26.45 C417.20,26.66 417.81,26.89 418.40,27.13 C419.00,27.38 419.60,27.63 420.19,27.90 C420.78,28.17 421.36,28.46 421.95,28.76 C422.53,29.05 423.11,29.36 423.69,29.68 C424.26,30.00 424.83,30.34 425.40,30.68 C425.97,31.03 426.53,31.38 427.09,31.75 C427.65,32.12 428.21,32.50 428.76,32.88 C429.31,33.27 429.85,33.67 430.40,34.08 C430.94,34.48 431.48,34.90 432.01,35.33 C432.55,35.75 433.08,36.19 433.60,36.63 C434.12,37.07 434.65,37.52 435.16,37.98 C435.68,38.44 436.19,38.91 436.69,39.38 C437.20,39.85 437.70,40.33 438.20,40.82 C438.69,41.30 439.19,41.79 439.67,42.29 C440.16,42.79 440.64,43.29 441.12,43.80 C441.59,44.31 442.06,44.82 442.53,45.33 C443.00,45.85 443.46,46.37 443.91,46.90 C444.37,47.42 444.82,47.95 445.26,48.48 C445.71,49.01 446.15,49.55 446.58,50.08 C447.01,50.62 447.44,51.16 447.87,51.70 C448.29,52.24 448.71,52.79 449.12,53.33 C449.54,53.88 449.94,54.43 450.35,54.98 C450.75,55.53 451.15,56.09 451.55,56.64 C451.94,57.20 452.34,57.75 452.72,58.31 C453.11,58.87 453.49,59.44 453.87,60.00 C454.25,60.56 454.63,61.13 455.00,61.70 C455.37,62.26 455.74,62.83 456.11,63.40 C456.48,63.97 456.84,64.55 457.20,65.12 C457.56,65.69 457.91,66.27 458.27,66.84 C458.62,67.42 458.97,68.00 459.32,68.58 C459.67,69.15 460.02,69.73 460.36,70.31 C460.71,70.90 461.05,71.48 461.39,72.06 C461.73,72.64 462.07,73.23 462.41,73.81 C462.74,74.40 463.08,74.98 463.41,75.57 C463.75,76.15 464.08,76.74 464.41,77.33 C464.74,77.91 465.07,78.50 465.40,79.09 C465.73,79.68 466.06,80.26 466.39,80.85 C466.72,81.44 467.04,82.03 467.37,82.62 C467.70,83.21 468.03,83.80 468.35,84.38 C468.68,84.97 469.01,85.56 469.33,86.15 C469.66,86.74 469.99,87.33 470.31,87.91 C470.64,88.50 470.97,89.09 471.30,89.68 C471.62,90.27 471.95,90.85 472.28,91.44 C472.61,92.03 472.94,92.61 473.27,93.20 C473.59,93.79 473.92,94.38 474.25,94.96 C474.58,95.55 474.91,96.14 475.23,96.72 C475.56,97.31 475.89,97.90 476.22,98.48 C476.54,99.07 476.87,99.66 477.20,100.25 C477.52,100.83 477.85,101.42 478.18,102.01 C478.50,102.59 478.83,103.18 479.15,103.77 C479.48,104.36 479.80,104.95 480.13,105.53 C480.45,106.12 480.77,106.71 481.10,107.30 C481.42,107.89 481.74,108.47 482.06,109.06 C482.38,109.65 482.70,110.24 483.02,110.83 C483.34,111.42 483.66,112.01 483.98,112.60 C484.29,113.19 484.61,113.78 484.93,114.37 C485.24,114.97 485.56,115.56 485.87,116.15 C486.18,116.74 486.50,117.33 486.81,117.93 C487.12,118.52 487.43,119.11 487.74,119.71 C488.04,120.30 488.35,120.90 488.66,121.49 C488.96,122.09 489.27,122.68 489.57,123.28 C489.87,123.88 490.18,124.47 490.48,125.07 C490.78,125.67 491.07,126.27 491.37,126.87 C491.67,127.47 491.96,128.07 492.26,128.67 C492.55,129.27 492.84,129.87 493.13,130.47 C493.42,131.08 493.71,131.68 493.99,132.28 C494.28,132.89 494.56,133.49 494.85,134.10 C495.13,134.71 495.41,135.31 495.69,135.92 C495.97,136.53 496.24,137.14 496.51,137.75 C496.79,138.36 497.06,138.97 497.33,139.58 C497.60,140.19 497.87,140.80 498.13,141.42 C498.40,142.03 498.66,142.65 498.92,143.26 C499.18,143.88 499.44,144.49 499.69,145.11 C499.95,145.73 500.20,146.35 500.45,146.97 C500.70,147.59 500.95,148.21 501.19,148.84 C501.44,149.46 501.68,150.09 501.92,150.71 C502.16,151.34 502.39,151.96 502.63,152.59 C502.86,153.22 503.09,153.85 503.32,154.48 C503.55,155.11 503.77,155.75 504.00,156.38 C504.22,157.01 504.44,157.65 504.65,158.29 C504.87,158.92 505.08,159.56 505.29,160.20 C505.50,160.84 505.71,161.48 505.91,162.12 C506.11,162.77 506.31,163.41 506.51,164.06 C506.70,164.70 506.90,165.35 507.09,166.00 C507.28,166.65 507.46,167.30 507.65,167.95 C507.83,168.61 508.01,169.26 508.18,169.92 C508.36,170.57 508.61,171.56 508.70,171.89" class="cv" stroke="url(#gA1)" stroke-width="2.8"/>
<path d="M322.8,20 V174 H522.6" class="ax2"/>
<text x="340.8" y="165.7" class="lg"><tspan fill="#3d5db3">XLINK</tspan><tspan fill="#333">-</tspan><tspan fill="#c31c28">MOTOR</tspan><tspan fill="#111"> switch</tspan></text>

<!-- ============ Panel B' ============ -->
<text transform="translate(278.5,224.5) scale(0.94,1)" class="pl">B’</text>
<text x="308" y="256.9" class="tk" textLength="14.7" lengthAdjust="spacingAndGlyphs">1.0</text>
<text x="321.4" y="383.9" class="tk" text-anchor="end">0</text>
<text x="326.2" y="394.1" class="tk" text-anchor="middle">0</text>
<text x="425.8" y="394.1" class="tk" text-anchor="middle">50</text>
<text x="525.4" y="394.1" class="tk" text-anchor="middle">100</text>
<text transform="translate(286.6,305.75) rotate(-90)" class="yl" text-anchor="middle">Normalized Radial</text>
<text transform="translate(301.6,305.95) rotate(-90)" class="yl" text-anchor="middle">Constriction Speed</text>
<path d="M325.40,369.50 C325.50,368.97 325.59,368.26 326.00,366.30 C326.41,364.34 326.81,360.93 327.87,357.76 C328.94,354.59 330.87,350.75 332.38,347.26 C333.88,343.76 335.38,340.18 336.90,336.80 C338.42,333.42 340.14,329.93 341.51,326.97 C342.89,324.01 343.55,322.37 345.13,319.04 C346.71,315.72 348.97,310.86 350.99,307.02 C353.01,303.18 354.91,299.65 357.23,295.98 C359.54,292.32 362.34,288.39 364.89,285.04 C367.45,281.69 369.98,278.80 372.54,275.87 C375.10,272.93 377.64,269.95 380.25,267.45 C382.85,264.95 385.98,262.49 388.17,260.87 C390.37,259.25 391.48,258.74 393.39,257.70 C395.31,256.67 397.45,255.61 399.67,254.67 C401.89,253.73 404.56,252.71 406.70,252.05 C408.83,251.40 410.71,251.02 412.48,250.74 C414.24,250.47 415.64,250.40 417.30,250.40 C418.96,250.40 420.52,250.48 422.44,250.73 C424.36,250.98 426.66,251.38 428.80,251.90 C430.94,252.41 433.14,253.00 435.26,253.84 C437.38,254.69 440.73,256.47 441.52,256.96 C442.31,257.45 438.59,255.59 440.00,256.80 C441.41,258.01 446.65,261.65 450.00,264.20 C453.35,266.75 456.75,268.92 460.10,272.10 C463.45,275.28 466.77,279.45 470.10,283.30 C473.43,287.15 476.78,291.17 480.10,295.20 C483.42,299.23 487.42,303.95 490.00,307.50 C492.58,311.05 493.77,313.42 495.60,316.50 C497.43,319.58 499.22,323.00 501.00,326.00 C502.78,329.00 504.80,332.38 506.30,334.50 C507.80,336.62 508.93,337.95 510.00,338.70 C511.07,339.45 511.87,339.53 512.70,339.00 C513.53,338.47 514.37,337.33 515.00,335.50 C515.63,333.67 516.08,331.25 516.50,328.00 C516.92,324.75 517.17,317.67 517.50,316.00 C517.83,314.33 518.20,315.33 518.50,318.00 C518.80,320.67 519.02,326.67 519.30,332.00 C519.58,337.33 519.98,344.67 520.20,350.00 C520.42,355.33 520.53,361.67 520.60,364.00 L520.30,365.50 C520.08,366.08 519.57,367.50 519.00,369.00 C518.43,370.50 517.73,373.27 516.90,374.50 C516.07,375.73 515.07,376.05 514.00,376.40 C512.93,376.75 511.78,377.28 510.50,376.60 C509.22,375.92 507.88,374.48 506.30,372.30 C504.72,370.12 502.78,366.80 501.00,363.50 C499.22,360.20 497.38,356.25 495.60,352.50 C493.82,348.75 492.07,344.67 490.30,341.00 C488.53,337.33 486.70,333.78 485.00,330.50 C483.30,327.22 481.77,324.35 480.10,321.30 C478.43,318.25 476.67,315.20 475.00,312.20 C473.33,309.20 471.77,306.33 470.10,303.30 C468.43,300.27 466.67,296.97 465.00,294.00 C463.33,291.03 461.77,287.97 460.10,285.50 C458.43,283.03 456.68,281.20 455.00,279.20 C453.32,277.20 451.67,275.40 450.00,273.50 C448.33,271.60 446.67,269.58 445.00,267.80 C443.33,266.02 441.09,263.59 440.00,262.80 C438.91,262.01 439.69,263.48 438.48,263.04 C437.27,262.60 434.62,260.91 432.74,260.16 C430.86,259.40 429.06,258.95 427.20,258.50 C425.34,258.06 423.21,257.69 421.56,257.47 C419.91,257.25 418.64,257.20 417.30,257.20 C415.96,257.20 414.96,257.23 413.52,257.46 C412.09,257.68 410.57,257.97 408.70,258.55 C406.84,259.13 404.35,260.07 402.33,260.93 C400.31,261.79 398.29,262.80 396.61,263.70 C394.92,264.60 394.17,264.89 392.23,266.33 C390.28,267.77 387.38,270.02 384.95,272.35 C382.53,274.69 380.10,277.53 377.66,280.33 C375.22,283.14 372.75,285.95 370.31,289.16 C367.86,292.37 365.19,296.11 362.97,299.62 C360.76,303.12 358.96,306.46 357.01,310.18 C355.06,313.90 352.83,318.68 351.27,321.96 C349.72,325.23 349.05,326.89 347.69,329.83 C346.32,332.77 344.61,336.24 343.10,339.60 C341.59,342.95 340.12,346.47 338.62,349.94 C337.13,353.42 335.68,356.85 334.13,360.44 C332.57,364.03 330.45,368.66 329.30,371.50 C328.15,374.34 327.82,376.03 327.20,377.50 C326.58,378.97 325.87,379.83 325.60,380.30 Z" fill="#c4c4c4"/>
<path d="M326.11,371.07 C326.24,370.76 326.65,369.86 326.92,369.26 C327.19,368.65 327.46,368.05 327.73,367.44 C328.00,366.83 328.27,366.23 328.54,365.62 C328.80,365.01 329.07,364.40 329.34,363.79 C329.60,363.18 329.87,362.56 330.13,361.95 C330.39,361.34 330.66,360.73 330.92,360.11 C331.18,359.50 331.44,358.88 331.70,358.27 C331.96,357.65 332.22,357.03 332.49,356.42 C332.75,355.80 333.01,355.18 333.26,354.56 C333.52,353.94 333.78,353.33 334.04,352.71 C334.30,352.09 334.56,351.47 334.82,350.85 C335.08,350.23 335.34,349.61 335.60,348.99 C335.86,348.36 336.11,347.74 336.37,347.12 C336.63,346.50 336.89,345.88 337.15,345.26 C337.41,344.64 337.67,344.02 337.93,343.39 C338.19,342.77 338.45,342.15 338.71,341.53 C338.97,340.91 339.24,340.29 339.50,339.67 C339.76,339.04 340.02,338.42 340.29,337.80 C340.55,337.18 340.81,336.56 341.08,335.94 C341.34,335.32 341.61,334.70 341.88,334.08 C342.14,333.46 342.41,332.84 342.68,332.22 C342.95,331.61 343.22,330.99 343.49,330.37 C343.76,329.75 344.04,329.14 344.31,328.52 C344.58,327.91 344.86,327.29 345.14,326.68 C345.41,326.06 345.69,325.45 345.97,324.83 C346.25,324.22 346.53,323.61 346.81,323.00 C347.09,322.39 347.38,321.78 347.67,321.17 C347.95,320.56 348.24,319.95 348.53,319.35 C348.82,318.74 349.11,318.13 349.40,317.53 C349.70,316.92 349.99,316.32 350.29,315.72 C350.59,315.12 350.89,314.52 351.19,313.92 C351.49,313.32 351.79,312.72 352.10,312.12 C352.41,311.53 352.72,310.93 353.03,310.34 C353.34,309.75 353.65,309.16 353.97,308.57 C354.28,307.98 354.60,307.39 354.92,306.80 C355.25,306.21 355.57,305.63 355.90,305.05 C356.22,304.46 356.55,303.88 356.89,303.30 C357.22,302.72 357.55,302.15 357.89,301.57 C358.23,301.00 358.57,300.42 358.92,299.85 C359.26,299.28 359.61,298.71 359.96,298.15 C360.31,297.58 360.66,297.01 361.02,296.45 C361.38,295.89 361.74,295.33 362.10,294.77 C362.47,294.21 362.83,293.66 363.21,293.11 C363.58,292.55 363.95,292.00 364.33,291.46 C364.71,290.91 365.09,290.36 365.48,289.82 C365.86,289.28 366.25,288.74 366.65,288.20 C367.04,287.66 367.44,287.13 367.84,286.60 C368.24,286.06 368.65,285.53 369.06,285.01 C369.46,284.48 369.88,283.96 370.30,283.44 C370.71,282.92 371.14,282.40 371.56,281.89 C371.99,281.37 372.42,280.86 372.86,280.35 C373.29,279.85 373.73,279.34 374.18,278.84 C374.62,278.34 375.07,277.84 375.52,277.34 C375.98,276.85 376.44,276.36 376.90,275.87 C377.36,275.38 377.83,274.90 378.30,274.41 C378.78,273.93 379.26,273.46 379.74,272.98 C380.22,272.51 380.71,272.04 381.20,271.57 C381.70,271.10 382.20,270.64 382.70,270.18 C383.20,269.72 383.71,269.26 384.23,268.81 C384.74,268.36 385.26,267.92 385.78,267.47 C386.31,267.03 386.84,266.60 387.37,266.17 C387.91,265.74 388.44,265.32 388.99,264.90 C389.53,264.48 390.08,264.08 390.64,263.67 C391.19,263.27 391.75,262.88 392.31,262.50 C392.87,262.11 393.44,261.74 394.01,261.37 C394.58,261.01 395.16,260.65 395.74,260.31 C396.32,259.96 396.91,259.63 397.50,259.30 C398.08,258.98 398.68,258.67 399.28,258.37 C399.87,258.07 400.48,257.78 401.08,257.51 C401.69,257.24 402.30,256.97 402.91,256.73 C403.52,256.48 404.14,256.25 404.76,256.03 C405.38,255.81 406.01,255.61 406.64,255.42 C407.27,255.23 407.90,255.06 408.53,254.91 C409.17,254.75 409.81,254.61 410.45,254.49 C411.09,254.37 411.74,254.26 412.39,254.18 C413.04,254.09 413.69,254.02 414.35,253.97 C415.00,253.92 415.66,253.89 416.32,253.88 C416.98,253.86 417.65,253.87 418.31,253.89 C418.97,253.91 419.64,253.94 420.30,254.00 C420.97,254.05 421.63,254.12 422.30,254.21 C422.96,254.29 423.62,254.40 424.29,254.51 C424.95,254.63 425.61,254.76 426.27,254.91 C426.93,255.05 427.59,255.22 428.24,255.39 C428.90,255.57 429.55,255.76 430.19,255.96 C430.84,256.16 431.49,256.38 432.13,256.61 C432.76,256.84 433.40,257.09 434.03,257.34 C434.66,257.60 435.28,257.87 435.90,258.15 C436.52,258.43 437.13,258.72 437.74,259.02 C438.34,259.32 438.94,259.64 439.53,259.97 C440.12,260.29 440.70,260.63 441.28,260.97 C441.85,261.32 442.42,261.68 442.98,262.05 C443.54,262.41 444.09,262.79 444.64,263.18 C445.18,263.56 445.72,263.96 446.25,264.36 C446.78,264.76 447.31,265.18 447.83,265.60 C448.35,266.02 448.86,266.45 449.36,266.89 C449.87,267.32 450.37,267.77 450.86,268.22 C451.35,268.67 451.84,269.13 452.32,269.60 C452.80,270.06 453.28,270.54 453.75,271.02 C454.22,271.50 454.68,271.98 455.14,272.47 C455.60,272.96 456.06,273.46 456.51,273.96 C456.96,274.46 457.40,274.97 457.85,275.48 C458.29,275.99 458.72,276.51 459.15,277.03 C459.59,277.55 460.01,278.08 460.44,278.61 C460.86,279.13 461.28,279.67 461.70,280.20 C462.11,280.74 462.53,281.27 462.94,281.82 C463.35,282.36 463.75,282.90 464.15,283.45 C464.56,283.99 464.96,284.54 465.35,285.09 C465.75,285.64 466.14,286.19 466.54,286.74 C466.93,287.29 467.32,287.85 467.70,288.40 C468.09,288.95 468.48,289.51 468.86,290.06 C469.24,290.62 469.62,291.17 470.00,291.72 C470.38,292.28 470.76,292.83 471.13,293.39 C471.51,293.94 471.89,294.49 472.26,295.05 C472.63,295.60 473.00,296.15 473.37,296.70 C473.74,297.26 474.11,297.81 474.47,298.36 C474.84,298.92 475.21,299.47 475.57,300.02 C475.93,300.58 476.29,301.13 476.65,301.69 C477.01,302.24 477.37,302.80 477.73,303.35 C478.09,303.91 478.44,304.46 478.80,305.02 C479.15,305.58 479.50,306.14 479.85,306.70 C480.20,307.26 480.55,307.82 480.90,308.38 C481.25,308.94 481.59,309.50 481.94,310.06 C482.28,310.63 482.63,311.19 482.97,311.76 C483.31,312.33 483.65,312.89 483.99,313.46 C484.33,314.03 484.67,314.60 485.00,315.18 C485.34,315.75 485.68,316.32 486.01,316.90 C486.34,317.48 486.67,318.05 487.00,318.63 C487.34,319.22 487.66,319.80 487.99,320.38 C488.32,320.97 488.65,321.55 488.97,322.14 C489.30,322.73 489.62,323.32 489.94,323.92 C490.27,324.51 490.59,325.11 490.91,325.71 C491.23,326.31 491.54,326.91 491.86,327.51 C492.18,328.12 492.49,328.72 492.81,329.33 C493.12,329.94 493.44,330.56 493.75,331.17 C494.06,331.79 494.37,332.41 494.68,333.03 C494.99,333.66 495.30,334.28 495.60,334.91 C495.91,335.54 496.22,336.17 496.52,336.81 C496.83,337.44 497.13,338.08 497.44,338.71 C497.75,339.34 498.06,339.98 498.37,340.61 C498.68,341.23 499.00,341.86 499.32,342.48 C499.64,343.09 499.96,343.71 500.29,344.31 C500.62,344.91 500.95,345.51 501.30,346.09 C501.64,346.67 501.99,347.24 502.35,347.80 C502.71,348.35 503.08,348.90 503.46,349.42 C503.84,349.95 504.22,350.46 504.62,350.95 C505.03,351.44 505.44,351.91 505.86,352.36 C506.29,352.81 506.73,353.24 507.18,353.65 C507.63,354.05 508.10,354.43 508.59,354.78 C509.07,355.14 509.57,355.47 510.09,355.76 C510.60,356.06 511.16,356.39 511.68,356.54 C512.21,356.70 512.75,356.84 513.22,356.70 C513.68,356.56 514.10,356.20 514.47,355.72 C514.84,355.25 515.15,354.56 515.44,353.84 C515.72,353.13 515.96,352.27 516.18,351.45 C516.40,350.62 516.58,349.71 516.75,348.87 C516.92,348.04 517.06,347.17 517.20,346.42 C517.33,345.67 517.45,344.95 517.58,344.38 C517.70,343.82 517.82,343.33 517.95,343.06 C518.08,342.78 518.22,342.66 518.37,342.73 C518.51,342.81 518.69,343.13 518.82,343.52 C518.96,343.91 519.10,344.48 519.19,345.08 C519.29,345.68 519.36,346.39 519.42,347.13 C519.47,347.86 519.50,348.68 519.52,349.50 C519.54,350.32 519.54,351.19 519.54,352.04 C519.54,352.89 519.52,353.77 519.51,354.61 C519.50,355.44 519.48,356.27 519.48,357.04 C519.47,357.80 519.46,358.54 519.47,359.18 C519.48,359.82 519.50,360.41 519.53,360.88 C519.57,361.35 519.67,361.80 519.70,361.99" class="cv" stroke="#000" stroke-width="4"/>
<path d="M326.50,361.20 L327.80,355.27 L329.10,353.18 L330.40,352.28 L331.70,352.06 L333.00,351.84 L334.30,351.72 L335.60,351.79 L336.90,351.85 L338.20,352.07 L339.50,352.81 L340.80,352.54 L342.10,353.94 L343.40,354.04 L344.70,354.80 L346.00,354.57 L347.30,355.43 L348.60,355.70 L349.90,354.63 L351.20,354.92 L352.50,356.38 L353.80,357.32 L355.10,356.47 L356.40,357.26 L357.70,357.89 L359.00,357.53 L360.30,357.74 L361.60,357.79 L362.90,358.02 L364.20,358.52 L365.50,358.05 L366.80,358.26 L368.10,359.03 L369.40,357.76 L370.70,358.80 L372.00,359.17 L373.30,358.47 L374.60,358.38 L375.90,359.56 L377.20,358.72 L378.50,358.79 L379.80,359.26 L381.10,358.96 L382.40,357.10 L383.70,357.08 L385.00,357.10 L386.30,358.00 L387.60,357.26 L388.90,357.96 L390.20,356.68 L391.50,356.94 L392.80,357.42 L394.10,357.62 L395.40,356.61 L396.70,356.33 L398.00,356.57 L399.30,357.73 L400.60,357.54 L401.90,358.71 L403.20,358.82 L404.50,357.70 L405.80,357.90 L407.10,358.85 L408.40,358.56 L409.70,358.85 L411.00,357.92 L412.30,357.40 L413.60,357.55 L414.90,358.32 L416.20,357.33 L417.50,357.60 L418.80,357.86 L420.10,358.00 L421.40,358.12 L422.70,359.12 L424.00,357.82 L425.30,357.64 L426.60,359.46 L427.90,359.47 L429.20,359.80 L430.50,358.91 L431.80,359.92 L433.10,359.96 L434.40,358.76 L435.70,359.82 L437.00,360.13 L438.30,359.97 L439.60,360.00 L440.90,359.91 L442.20,360.32 L443.50,360.39 L444.80,360.32 L446.10,361.48 L447.40,361.15 L448.70,362.32 L450.00,361.19 L451.30,362.99 L452.60,362.87 L453.90,363.62 L455.20,363.94 L456.50,364.31 L457.80,364.10 L459.10,363.46 L460.40,365.17 L461.70,364.52 L463.00,365.14 L464.30,366.20 L465.60,366.36 L466.90,366.57 L468.20,367.92 L469.50,367.79 L470.80,367.75 L472.10,368.04 L473.40,369.61 L474.70,369.44 L476.00,370.51 L477.30,370.25 L478.60,370.46 L479.90,371.51 L481.20,372.46 L482.50,371.74 L483.80,373.27 L485.10,373.90 L486.40,374.09 L487.70,374.52 L489.00,373.54 L490.30,375.17 L491.60,376.10 L492.90,375.17 L494.20,376.12 L495.30,377.00" class="cv" stroke="#e8a6d0" stroke-width="5.2" stroke-opacity="0.75"/>
<path d="M326.50,361.20 L327.80,355.27 L329.10,353.18 L330.40,352.28 L331.70,352.06 L333.00,351.84 L334.30,351.72 L335.60,351.79 L336.90,351.85 L338.20,352.07 L339.50,352.81 L340.80,353.02 L342.10,353.77 L343.40,353.94 L344.70,354.60 L346.00,354.98 L347.30,354.53 L348.60,354.69 L349.90,355.90 L351.20,355.43 L352.50,355.74 L353.80,357.08 L355.10,356.88 L356.40,357.74 L357.70,357.69 L359.00,358.02 L360.30,357.57 L361.60,358.29 L362.90,358.70 L364.20,358.37 L365.50,358.70 L366.80,358.68 L368.10,358.02 L369.40,358.92 L370.70,358.79 L372.00,358.51 L373.30,358.25 L374.60,359.32 L375.90,358.98 L377.20,359.45 L378.50,359.81 L379.80,359.64 L381.10,359.11 L382.40,357.69 L383.70,357.76 L385.00,357.33 L386.30,357.92 L387.60,357.82 L388.90,356.84 L390.20,356.84 L391.50,356.89 L392.80,357.71 L394.10,356.85 L395.40,356.85 L396.70,356.59 L398.00,357.26 L399.30,357.54 L400.60,357.92 L401.90,358.26 L403.20,358.31 L404.50,358.75 L405.80,358.52 L407.10,358.81 L408.40,358.73 L409.70,358.89 L411.00,358.40 L412.30,357.66 L413.60,358.36 L414.90,358.35 L416.20,358.23 L417.50,357.96 L418.80,358.27 L420.10,357.80 L421.40,358.68 L422.70,358.45 L424.00,358.18 L425.30,358.01 L426.60,359.08 L427.90,359.38 L429.20,358.43 L430.50,359.39 L431.80,359.00 L433.10,358.77 L434.40,359.02 L435.70,359.70 L437.00,359.98 L438.30,359.13 L439.60,360.11 L440.90,359.74 L442.20,360.87 L443.50,360.68 L444.80,361.56 L446.10,361.89 L447.40,361.54 L448.70,362.36 L450.00,361.78 L451.30,361.76 L452.60,362.64 L453.90,362.29 L455.20,362.86 L456.50,363.48 L457.80,364.09 L459.10,363.93 L460.40,364.18 L461.70,365.55 L463.00,365.28 L464.30,366.46 L465.60,366.79 L466.90,366.58 L468.20,367.09 L469.50,367.61 L470.80,368.21 L472.10,368.60 L473.40,369.03 L474.70,369.62 L476.00,370.53 L477.30,370.53 L478.60,370.92 L479.90,371.71 L481.20,371.57 L482.50,372.09 L483.80,373.32 L485.10,373.17 L486.40,373.60 L487.70,373.35 L489.00,374.33 L490.30,375.03 L491.60,374.87 L492.90,376.12 L494.20,376.69 L495.30,377.00" class="cv" stroke="#b3137f" stroke-width="3.3"/>
<path d="M325,227.5 V381.5 H525" class="ax2"/>
<text x="340.4" y="375" class="lg" font-style="italic" fill="#b3137f">S. pombe</text>

<!-- ============ Panel A'' ============ -->
<text transform="translate(551.6,13.6) scale(0.94,1)" class="pl">A”</text>
<path d="M641.20,71.80 L679.24,99.44 L664.71,144.16 L617.69,144.16 L603.16,99.44 Z" class="dash"/><path d="M641.20,51.80 L698.26,93.26 L676.47,160.34 L605.93,160.34 L584.14,93.26 Z" class="dash"/><path d="M641.20,31.80 L717.28,87.08 L688.22,176.52 L594.18,176.52 L565.12,87.08 Z" class="dash"/><path d="M641.20,111.80 L641.20,31.80" class="dash"/><path d="M641.20,111.80 L717.28,87.08" class="dash"/><path d="M641.20,111.80 L688.22,176.52" class="dash"/><path d="M641.20,111.80 L594.18,176.52" class="dash"/><path d="M641.20,111.80 L565.12,87.08" class="dash"/>
<path d="M641.20,68.20 L698.80,93.09 L656.25,132.51 L594.18,176.52 L622.18,105.62 Z" fill="url(#gRf)" fill-opacity="0.95"/>
<path d="M641.20,71.80 L679.24,99.44 L664.71,144.16 L617.69,144.16 L603.16,99.44 Z" class="dash"/><path d="M641.20,51.80 L698.26,93.26 L676.47,160.34 L605.93,160.34 L584.14,93.26 Z" class="dash"/><path d="M641.20,31.80 L717.28,87.08 L688.22,176.52 L594.18,176.52 L565.12,87.08 Z" class="dash"/><path d="M641.20,111.80 L641.20,31.80" class="dash"/><path d="M641.20,111.80 L717.28,87.08" class="dash"/><path d="M641.20,111.80 L688.22,176.52" class="dash"/><path d="M641.20,111.80 L594.18,176.52" class="dash"/><path d="M641.20,111.80 L565.12,87.08" class="dash"/>
<path d="M641.20,111.80 L641.20,68.20" stroke="#4a5fb0" stroke-width="1.3" fill="none"/><path d="M641.20,111.80 L698.80,93.09" stroke="url(#gS)" stroke-width="1.3" fill="none"/><path d="M641.20,111.80 L656.25,132.51" stroke="url(#gS)" stroke-width="1.3" fill="none"/><path d="M641.20,111.80 L594.18,176.52" stroke="url(#gS)" stroke-width="1.3" fill="none"/><path d="M641.20,111.80 L622.18,105.62" stroke="url(#gS)" stroke-width="1.3" fill="none"/>
<path d="M641.20,68.20 L698.80,93.09 L656.25,132.51 L594.18,176.52 L622.18,105.62 Z" fill="none" stroke="url(#gR)" stroke-width="3.2" stroke-linejoin="miter"/>
<path d="M641.20,91.80 L660.22,105.62 L652.96,127.98 L629.44,127.98 L622.18,105.62 Z" class="bp"/><path d="M641.20,111.80 L641.20,91.80" class="bp"/><path d="M641.20,111.80 L660.22,105.62" class="bp"/><path d="M641.20,111.80 L652.96,127.98" class="bp"/><path d="M641.20,111.80 L629.44,127.98" class="bp"/><path d="M641.20,111.80 L622.18,105.62" class="bp"/>
<text transform="translate(641.20,26.90) scale(0.92,1)" class="rl">1</text><text transform="translate(724.38,88.78) scale(0.92,1)" class="rl">2</text><text transform="translate(693.62,188.92) scale(0.92,1)" class="rl">3</text><text transform="translate(589.88,188.42) scale(0.92,1)" class="rl">4</text><text transform="translate(557.82,88.78) scale(0.92,1)" class="rl">5</text>

<!-- ============ Panel B'' ============ -->
<text transform="translate(551.8,224) scale(0.94,1)" class="pl">B”</text>
<path d="M642.70,278.10 L680.74,305.74 L666.21,350.46 L619.19,350.46 L604.66,305.74 Z" class="dash"/><path d="M642.70,258.10 L699.76,299.56 L677.97,366.64 L607.43,366.64 L585.64,299.56 Z" class="dash"/><path d="M642.70,238.10 L718.78,293.38 L689.72,382.82 L595.68,382.82 L566.62,293.38 Z" class="dash"/><path d="M642.70,318.10 L642.70,238.10" class="dash"/><path d="M642.70,318.10 L718.78,293.38" class="dash"/><path d="M642.70,318.10 L689.72,382.82" class="dash"/><path d="M642.70,318.10 L595.68,382.82" class="dash"/><path d="M642.70,318.10 L566.62,293.38" class="dash"/>
<path d="M642.70,312.90 L660.58,312.29 L657.51,338.49 L629.53,336.22 L641.18,317.61 Z" fill="#e6b1d3" stroke="#b0137f" stroke-width="3.2" stroke-linejoin="miter"/>
<path d="M642.70,298.10 L661.72,311.92 L654.46,334.28 L630.94,334.28 L623.68,311.92 Z" class="bp"/><path d="M642.70,318.10 L642.70,298.10" class="bp"/><path d="M642.70,318.10 L661.72,311.92" class="bp"/><path d="M642.70,318.10 L654.46,334.28" class="bp"/><path d="M642.70,318.10 L630.94,334.28" class="bp"/><path d="M642.70,318.10 L623.68,311.92" class="bp"/>
<text transform="translate(642.70,233.90) scale(0.92,1)" class="rl">1</text><text transform="translate(725.88,295.98) scale(0.92,1)" class="rl">2</text><text transform="translate(695.22,395.92) scale(0.92,1)" class="rl">3</text><text transform="translate(591.18,395.92) scale(0.92,1)" class="rl">4</text><text transform="translate(559.02,295.98) scale(0.92,1)" class="rl">5</text>
</svg>
</body></html>
